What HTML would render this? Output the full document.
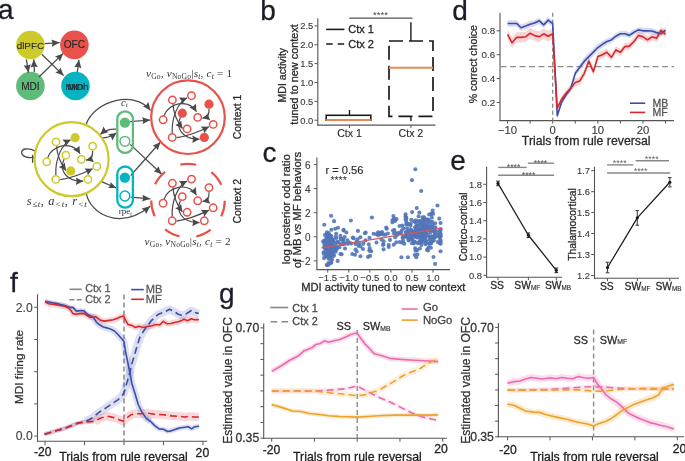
<!DOCTYPE html>
<html><head><meta charset="utf-8"><style>
html,body{margin:0;padding:0;background:#fff;width:685px;height:461px;overflow:hidden}
svg{display:block;will-change:transform}
</style></head><body>
<svg width="685" height="461" viewBox="0 0 685 461">
<rect width="685" height="461" fill="#fff"/>
<text x="-2" y="18.7" font-size="28" fill="#1c1c28" stroke="#1c1c28" stroke-width="0.28" text-anchor="start" font-family='"Liberation Sans", sans-serif' >a</text>
<text x="260.3" y="20" font-size="28" fill="#1c1c28" stroke="#1c1c28" stroke-width="0.28" text-anchor="start" font-family='"Liberation Sans", sans-serif' >b</text>
<text x="262.6" y="162.2" font-size="28" fill="#1c1c28" stroke="#1c1c28" stroke-width="0.28" text-anchor="start" font-family='"Liberation Sans", sans-serif' >c</text>
<text x="452.3" y="20.3" font-size="28" fill="#1c1c28" stroke="#1c1c28" stroke-width="0.28" text-anchor="start" font-family='"Liberation Sans", sans-serif' >d</text>
<text x="450.3" y="170.2" font-size="28" fill="#1c1c28" stroke="#1c1c28" stroke-width="0.28" text-anchor="start" font-family='"Liberation Sans", sans-serif' >e</text>
<text x="10" y="291.6" font-size="28" fill="#1c1c28" stroke="#1c1c28" stroke-width="0.28" text-anchor="start" font-family='"Liberation Sans", sans-serif' >f</text>
<text x="219" y="303.2" font-size="28" fill="#1c1c28" stroke="#1c1c28" stroke-width="0.28" text-anchor="start" font-family='"Liberation Sans", sans-serif' >g</text>
<circle cx="30.4" cy="45.0" r="14.3" fill="#cdca2c"/>
<circle cx="74.4" cy="44.8" r="14.3" fill="#e8524b"/>
<circle cx="30.4" cy="86.0" r="14.3" fill="#5ebc7a"/>
<circle cx="75.5" cy="86.0" r="14.3" fill="#06b3c1"/>
<text x="30.4" y="48.6" font-size="9.9" fill="#262626" stroke="#262626" stroke-width="0.1" text-anchor="middle" font-family='"Liberation Sans", sans-serif' >dlPFC</text>
<text x="74.4" y="48.4" font-size="10.1" fill="#262626" stroke="#262626" stroke-width="0.1" text-anchor="middle" font-family='"Liberation Sans", sans-serif' >OFC</text>
<text x="30.4" y="89.6" font-size="10.1" fill="#262626" stroke="#262626" stroke-width="0.1" text-anchor="middle" font-family='"Liberation Sans", sans-serif' >MDI</text>
<text x="78" y="89.6" font-size="9.9" fill="#1a2a30" stroke="#1a2a30" stroke-width="0.1" text-anchor="middle" font-family='"Liberation Sans", sans-serif' textLength="21" lengthAdjust="spacingAndGlyphs">MDh</text>
<text x="74.5" y="89.6" font-size="9.9" fill="#1a2a30" stroke="#1a2a30" stroke-width="0.1" text-anchor="middle" font-family='"Liberation Sans", sans-serif' textLength="18" lengthAdjust="spacingAndGlyphs">NMD</text>
<line x1="44.7" y1="43.6" x2="59.6" y2="42.6" stroke="#4a4a4a" stroke-width="1.3"/>
<path d="M59.6,42.6 L51.86,46.73 L52.58,43.07 L51.38,39.54Z" fill="#4a4a4a"/>
<line x1="26.4" y1="59.4" x2="28.4" y2="72.6" stroke="#4a4a4a" stroke-width="1.3"/>
<path d="M28.4,72.6 L23.64,65.23 L27.35,65.64 L30.76,64.15Z" fill="#4a4a4a"/>
<line x1="34.4" y1="72" x2="33.8" y2="59.4" stroke="#4a4a4a" stroke-width="1.3"/>
<path d="M33.8,59.4 L37.78,67.22 L34.13,66.43 L30.58,67.56Z" fill="#4a4a4a"/>
<line x1="39" y1="77" x2="63.2" y2="53.4" stroke="#4a4a4a" stroke-width="1.3"/>
<path d="M63.2,53.4 L59.99,61.56 L58.16,58.32 L54.96,56.41Z" fill="#4a4a4a"/>
<line x1="41.8" y1="54.2" x2="63.6" y2="75.6" stroke="#4a4a4a" stroke-width="1.3"/>
<path d="M63.6,75.6 L55.37,72.56 L58.58,70.67 L60.41,67.43Z" fill="#4a4a4a"/>
<line x1="77.3" y1="72" x2="78.9" y2="59.8" stroke="#4a4a4a" stroke-width="1.3"/>
<path d="M78.9,59.8 L81.43,68.2 L77.98,66.78 L74.29,67.26Z" fill="#4a4a4a"/>
<path d="M35,150.8 C28,147.5 21,148.5 21.7,153.2 C22.5,157.2 29,158.3 34.8,157.2" fill="none" stroke="#4a4a4a" stroke-width="1.3"/>
<line x1="32.6" y1="154.8" x2="32.6" y2="162.8" stroke="#4a4a4a" stroke-width="1.3"/>
<path d="M86,124.5 C95,100 135,90 150.5,110.5" fill="none" stroke="#4a4a4a" stroke-width="1.2"/>
<path d="M150.5,110.5 L142.96,106.17 L146.25,104.88 L148.39,102.07Z" fill="#4a4a4a"/>
<path d="M86.4,193.8 C90,212 118,232 150.2,206.3" fill="none" stroke="#4a4a4a" stroke-width="1.2"/>
<path d="M150.2,206.3 L146.19,214.1 L144.7,210.69 L141.7,208.48Z" fill="#4a4a4a"/>
<path d="M116.5,129.2 C111,129 106,129.5 100.4,134.4" fill="none" stroke="#4a4a4a" stroke-width="1.3"/>
<path d="M100.4,134.4 L103.54,126.6 L105.37,130.05 L108.55,132.32Z" fill="#4a4a4a"/>
<path d="M101.5,138 C106,138 110,137.5 116.4,133" fill="none" stroke="#4a4a4a" stroke-width="1.3"/>
<path d="M116.4,133 L112.45,140.42 L111,136.8 L108.08,134.21Z" fill="#4a4a4a"/>
<line x1="130" y1="121.6" x2="150.3" y2="120" stroke="#4a4a4a" stroke-width="1.2"/>
<path d="M150.3,120 L142.59,124.02 L143.28,120.55 L142.06,117.24Z" fill="#4a4a4a"/>
<line x1="130.2" y1="144.4" x2="161.8" y2="174.2" stroke="#4a4a4a" stroke-width="1.2"/>
<path d="M161.8,174.2 L153.65,171.18 L156.68,169.37 L158.31,166.24Z" fill="#4a4a4a"/>
<line x1="130.7" y1="175.5" x2="160.5" y2="142" stroke="#4a4a4a" stroke-width="1.2"/>
<path d="M160.5,142 L157.72,150.24 L155.82,147.26 L152.64,145.72Z" fill="#4a4a4a"/>
<line x1="101" y1="181.4" x2="116.3" y2="188" stroke="#4a4a4a" stroke-width="1.2"/>
<path d="M116.3,188 L108.15,187.97 L110.24,185.39 L110.68,182.09Z" fill="#4a4a4a"/>
<line x1="130.8" y1="197.2" x2="150.3" y2="198.8" stroke="#4a4a4a" stroke-width="1.2"/>
<path d="M150.3,198.8 L142.05,201.53 L143.28,198.22 L142.6,194.76Z" fill="#4a4a4a"/>
<circle cx="71.6" cy="159.2" r="37.0" fill="none" stroke="#cdca2c" stroke-width="2.2"/>
<path d="M47.6,157.7 C51.6,145.2 71.6,140.2 80.1,153.7" fill="none" stroke="#4a4a4a" stroke-width="1.2"/>
<path d="M80.1,153.7 L73.13,149.58 L76.72,148.34 L79.39,145.64Z" fill="#4a4a4a"/>
<path d="M55.8,175.2 C55.1,159.2 61.6,144.2 70.6,139.7" fill="none" stroke="#4a4a4a" stroke-width="1.2"/>
<path d="M70.6,139.7 L65.81,146.23 L64.93,142.53 L62.51,139.61Z" fill="#4a4a4a"/>
<path d="M56.6,146.2 C57.1,157.2 62.1,165.2 66,170.6" fill="none" stroke="#4a4a4a" stroke-width="1.2"/>
<path d="M66,170.6 L58.78,166.93 L62.29,165.46 L64.78,162.6Z" fill="#4a4a4a"/>
<path d="M92.6,150.7 C93.1,156.2 90.6,159.2 86.1,160.2" fill="none" stroke="#4a4a4a" stroke-width="1.2"/>
<path d="M86.1,160.2 L92.33,155.03 L92.29,158.83 L93.93,162.25Z" fill="#4a4a4a"/>
<path d="M60.1,179.7 C69.6,178.2 81.6,174.2 92.6,168.7" fill="none" stroke="#4a4a4a" stroke-width="1.2"/>
<path d="M92.6,168.7 L87.81,175.23 L86.93,171.53 L84.51,168.61Z" fill="#4a4a4a"/>
<path d="M64.1,159.2 C59.6,168.2 63.6,181.2 83.1,181.2" fill="none" stroke="#4a4a4a" stroke-width="1.2"/>
<path d="M83.1,181.2 L75.9,184.9 L76.76,181.2 L75.9,177.5Z" fill="#4a4a4a"/>
<circle cx="56" cy="141.9" r="3.7" fill="#fff" stroke="#cdca2c" stroke-width="1.5"/>
<circle cx="75.1" cy="137.7" r="4.6" fill="#cdca2c"/>
<circle cx="92.6" cy="146.2" r="3.7" fill="#fff" stroke="#cdca2c" stroke-width="1.5"/>
<circle cx="65.9" cy="155.2" r="3.7" fill="#fff" stroke="#cdca2c" stroke-width="1.5"/>
<circle cx="46.7" cy="161.8" r="3.7" fill="#fff" stroke="#cdca2c" stroke-width="1.5"/>
<circle cx="81.3" cy="159.4" r="3.7" fill="#fff" stroke="#cdca2c" stroke-width="1.5"/>
<circle cx="96.8" cy="166.4" r="3.7" fill="#fff" stroke="#cdca2c" stroke-width="1.5"/>
<circle cx="70.7" cy="170.9" r="4.6" fill="#cdca2c"/>
<circle cx="55.8" cy="179.4" r="3.7" fill="#fff" stroke="#cdca2c" stroke-width="1.5"/>
<circle cx="87.9" cy="179.4" r="3.7" fill="#fff" stroke="#cdca2c" stroke-width="1.5"/>
<circle cx="188.0" cy="117.2" r="36.8" fill="none" stroke="#e8524b" stroke-width="2.2"/>
<path d="M164,115.7 C168,103.2 188,98.2 196.5,111.7" fill="none" stroke="#4a4a4a" stroke-width="1.2"/>
<path d="M196.5,111.7 L189.53,107.58 L193.12,106.34 L195.79,103.64Z" fill="#4a4a4a"/>
<path d="M172.2,133.2 C171.5,117.2 178,102.2 187,97.7" fill="none" stroke="#4a4a4a" stroke-width="1.2"/>
<path d="M187,97.7 L182.21,104.23 L181.33,100.53 L178.91,97.61Z" fill="#4a4a4a"/>
<path d="M173,104.2 C173.5,115.2 178.5,123.2 182.4,128.6" fill="none" stroke="#4a4a4a" stroke-width="1.2"/>
<path d="M182.4,128.6 L175.18,124.93 L178.69,123.46 L181.18,120.6Z" fill="#4a4a4a"/>
<path d="M209,108.7 C209.5,114.2 207,117.2 202.5,118.2" fill="none" stroke="#4a4a4a" stroke-width="1.2"/>
<path d="M202.5,118.2 L208.73,113.03 L208.69,116.83 L210.33,120.25Z" fill="#4a4a4a"/>
<path d="M176.5,137.7 C186,136.2 198,132.2 209,126.7" fill="none" stroke="#4a4a4a" stroke-width="1.2"/>
<path d="M209,126.7 L204.21,133.23 L203.33,129.53 L200.91,126.61Z" fill="#4a4a4a"/>
<path d="M180.5,117.2 C176,126.2 180,139.2 199.5,139.2" fill="none" stroke="#4a4a4a" stroke-width="1.2"/>
<path d="M199.5,139.2 L192.3,142.9 L193.16,139.2 L192.3,135.5Z" fill="#4a4a4a"/>
<circle cx="172.4" cy="99.9" r="3.7" fill="#fff" stroke="#e8524b" stroke-width="1.5"/>
<circle cx="191.5" cy="95.7" r="3.7" fill="#fff" stroke="#e8524b" stroke-width="1.5"/>
<circle cx="209" cy="104.2" r="4.6" fill="#e8524b"/>
<circle cx="182.3" cy="113.2" r="4.6" fill="#e8524b"/>
<circle cx="163.1" cy="119.8" r="3.7" fill="#fff" stroke="#e8524b" stroke-width="1.5"/>
<circle cx="197.7" cy="117.4" r="3.7" fill="#fff" stroke="#e8524b" stroke-width="1.5"/>
<circle cx="213.2" cy="124.4" r="3.7" fill="#fff" stroke="#e8524b" stroke-width="1.5"/>
<circle cx="187.1" cy="128.9" r="3.7" fill="#fff" stroke="#e8524b" stroke-width="1.5"/>
<circle cx="172.2" cy="137.4" r="3.7" fill="#fff" stroke="#e8524b" stroke-width="1.5"/>
<circle cx="204.3" cy="137.4" r="4.6" fill="#e8524b"/>
<circle cx="188.0" cy="200.6" r="36.8" fill="none" stroke="#e8524b" stroke-width="2.2" stroke-dasharray="16.06 16.97" stroke-dashoffset="-0.26"/>
<path d="M164,199.1 C168,186.6 188,181.6 196.5,195.1" fill="none" stroke="#4a4a4a" stroke-width="1.2"/>
<path d="M196.5,195.1 L189.53,190.98 L193.12,189.74 L195.79,187.04Z" fill="#4a4a4a"/>
<path d="M172.2,216.6 C171.5,200.6 178,185.6 187,181.1" fill="none" stroke="#4a4a4a" stroke-width="1.2"/>
<path d="M187,181.1 L182.21,187.63 L181.33,183.93 L178.91,181.01Z" fill="#4a4a4a"/>
<path d="M173,187.6 C173.5,198.6 178.5,206.6 182.4,212" fill="none" stroke="#4a4a4a" stroke-width="1.2"/>
<path d="M182.4,212 L175.18,208.33 L178.69,206.86 L181.18,204Z" fill="#4a4a4a"/>
<path d="M209,192.1 C209.5,197.6 207,200.6 202.5,201.6" fill="none" stroke="#4a4a4a" stroke-width="1.2"/>
<path d="M202.5,201.6 L208.73,196.43 L208.69,200.23 L210.33,203.65Z" fill="#4a4a4a"/>
<path d="M176.5,221.1 C186,219.6 198,215.6 209,210.1" fill="none" stroke="#4a4a4a" stroke-width="1.2"/>
<path d="M209,210.1 L204.21,216.63 L203.33,212.93 L200.91,210.01Z" fill="#4a4a4a"/>
<path d="M180.5,200.6 C176,209.6 180,222.6 199.5,222.6" fill="none" stroke="#4a4a4a" stroke-width="1.2"/>
<path d="M199.5,222.6 L192.3,226.3 L193.16,222.6 L192.3,218.9Z" fill="#4a4a4a"/>
<circle cx="172.4" cy="183.3" r="3.7" fill="#fff" stroke="#e8524b" stroke-width="1.5"/>
<circle cx="191.5" cy="179.1" r="3.7" fill="#fff" stroke="#e8524b" stroke-width="1.5"/>
<circle cx="209" cy="187.6" r="3.7" fill="#fff" stroke="#e8524b" stroke-width="1.5"/>
<circle cx="182.3" cy="196.6" r="3.7" fill="#fff" stroke="#e8524b" stroke-width="1.5"/>
<circle cx="163.1" cy="203.2" r="3.7" fill="#fff" stroke="#e8524b" stroke-width="1.5"/>
<circle cx="197.7" cy="200.8" r="3.7" fill="#fff" stroke="#e8524b" stroke-width="1.5"/>
<circle cx="213.2" cy="207.8" r="3.7" fill="#fff" stroke="#e8524b" stroke-width="1.5"/>
<circle cx="187.1" cy="212.3" r="3.7" fill="#fff" stroke="#e8524b" stroke-width="1.5"/>
<circle cx="172.2" cy="220.8" r="3.7" fill="#fff" stroke="#e8524b" stroke-width="1.5"/>
<circle cx="204.3" cy="220.8" r="3.7" fill="#fff" stroke="#e8524b" stroke-width="1.5"/>
<rect x="117.3" y="111.3" width="15.6" height="41.6" rx="7.8" fill="none" stroke="#5ebc7a" stroke-width="2.3"/>
<circle cx="124.9" cy="122.6" r="5.2" fill="#5ebc7a"/>
<circle cx="124.9" cy="141.3" r="4.9" fill="#fff" stroke="#5ebc7a" stroke-width="1.5"/>
<rect x="117.3" y="166.5" width="15.6" height="41.2" rx="7.8" fill="none" stroke="#06b3c1" stroke-width="2.3"/>
<circle cx="124.9" cy="177.6" r="5.2" fill="#06b3c1"/>
<circle cx="124.9" cy="196.0" r="4.9" fill="#fff" stroke="#06b3c1" stroke-width="1.5"/>
<text x="146" y="77.4" fill="#333" font-family='"Liberation Serif", serif' textLength="86.0" lengthAdjust="spacing"><tspan font-size="11.2" dy="0" font-style="italic">v</tspan><tspan font-size="7.6" dy="1.8" >Go</tspan><tspan font-size="11.2" dy="-1.8" >, </tspan><tspan font-size="11.2" dy="0" font-style="italic">v</tspan><tspan font-size="7.6" dy="1.8" >NoGo</tspan><tspan font-size="11.2" dy="-1.8" >|</tspan><tspan font-size="11.2" dy="0" font-style="italic">s</tspan><tspan font-size="7.6" dy="1.8" font-style="italic">t</tspan><tspan font-size="11.2" dy="-1.8" >, </tspan><tspan font-size="11.2" dy="0" font-style="italic">c</tspan><tspan font-size="7.6" dy="1.8" font-style="italic">t</tspan><tspan font-size="11.2" dy="-1.8" > = 1</tspan></text>
<text x="144.6" y="245.4" fill="#333" font-family='"Liberation Serif", serif' textLength="86.0" lengthAdjust="spacing"><tspan font-size="11.2" dy="0" font-style="italic">v</tspan><tspan font-size="7.6" dy="1.8" >Go</tspan><tspan font-size="11.2" dy="-1.8" >, </tspan><tspan font-size="11.2" dy="0" font-style="italic">v</tspan><tspan font-size="7.6" dy="1.8" >NoGo</tspan><tspan font-size="11.2" dy="-1.8" >|</tspan><tspan font-size="11.2" dy="0" font-style="italic">s</tspan><tspan font-size="7.6" dy="1.8" font-style="italic">t</tspan><tspan font-size="11.2" dy="-1.8" >, </tspan><tspan font-size="11.2" dy="0" font-style="italic">c</tspan><tspan font-size="7.6" dy="1.8" font-style="italic">t</tspan><tspan font-size="11.2" dy="-1.8" > = 2</tspan></text>
<text x="26.8" y="204.6" fill="#333" font-family='"Liberation Serif", serif' textLength="60" lengthAdjust="spacing"><tspan font-size="12.5" font-style="italic">s</tspan><tspan font-size="9" dy="2.6" font-style="italic">≤t</tspan><tspan font-size="12.5" dy="-2.6">, </tspan><tspan font-size="12.5" font-style="italic">a</tspan><tspan font-size="9" dy="2.6" font-style="italic">&lt;t</tspan><tspan font-size="12.5" dy="-2.6">, </tspan><tspan font-size="12.5" font-style="italic">r</tspan><tspan font-size="9" dy="2.6" font-style="italic">&lt;t</tspan></text>
<text x="121" y="105.6" fill="#333" font-family='"Liberation Serif", serif'><tspan font-size="10.5" dy="0" font-style="italic">c</tspan><tspan font-size="7" dy="1.6" font-style="italic">t</tspan></text>
<text x="118.8" y="214.4" fill="#333" font-family='"Liberation Serif", serif'><tspan font-size="9.0" dy="0" >rpe</tspan><tspan font-size="6.0" dy="1.5" >t</tspan></text>
<text transform="translate(241.3,117) rotate(-90)" font-size="10.4" fill="#2a2a2a" stroke="#2a2a2a" stroke-width="0.28" text-anchor="middle" font-family='"Liberation Sans", sans-serif'>Context 1</text>
<text transform="translate(241.3,201.3) rotate(-90)" font-size="10.4" fill="#2a2a2a" stroke="#2a2a2a" stroke-width="0.28" text-anchor="middle" font-family='"Liberation Sans", sans-serif'>Context 2</text>
<line x1="317.8" y1="18.2" x2="317.8" y2="125.6" stroke="#555555" stroke-width="1.1" />
<line x1="317.3" y1="125.1" x2="435.5" y2="125.1" stroke="#555555" stroke-width="1.1" />
<line x1="314.5" y1="120.2" x2="317.8" y2="120.2" stroke="#555555" stroke-width="1" />
<text x="313.3" y="123.58" font-size="9.4" fill="#3a3a3a" stroke="#3a3a3a" stroke-width="0.12" text-anchor="end" font-family='"Liberation Sans", sans-serif' >0.0</text>
<line x1="314.5" y1="101.34" x2="317.8" y2="101.34" stroke="#555555" stroke-width="1" />
<text x="313.3" y="104.72" font-size="9.4" fill="#3a3a3a" stroke="#3a3a3a" stroke-width="0.12" text-anchor="end" font-family='"Liberation Sans", sans-serif' >0.5</text>
<line x1="314.5" y1="82.48" x2="317.8" y2="82.48" stroke="#555555" stroke-width="1" />
<text x="313.3" y="85.86" font-size="9.4" fill="#3a3a3a" stroke="#3a3a3a" stroke-width="0.12" text-anchor="end" font-family='"Liberation Sans", sans-serif' >1.0</text>
<line x1="314.5" y1="63.62" x2="317.8" y2="63.62" stroke="#555555" stroke-width="1" />
<text x="313.3" y="67" font-size="9.4" fill="#3a3a3a" stroke="#3a3a3a" stroke-width="0.12" text-anchor="end" font-family='"Liberation Sans", sans-serif' >1.5</text>
<line x1="314.5" y1="44.76" x2="317.8" y2="44.76" stroke="#555555" stroke-width="1" />
<text x="313.3" y="48.14" font-size="9.4" fill="#3a3a3a" stroke="#3a3a3a" stroke-width="0.12" text-anchor="end" font-family='"Liberation Sans", sans-serif' >2.0</text>
<line x1="314.5" y1="25.9" x2="317.8" y2="25.9" stroke="#555555" stroke-width="1" />
<text x="313.3" y="29.28" font-size="9.4" fill="#3a3a3a" stroke="#3a3a3a" stroke-width="0.12" text-anchor="end" font-family='"Liberation Sans", sans-serif' >2.5</text>
<line x1="349.5" y1="125.1" x2="349.5" y2="128.1" stroke="#555555" stroke-width="1" />
<text x="349.5" y="137" font-size="10.6" fill="#2a2a2a" stroke="#2a2a2a" stroke-width="0.12" text-anchor="middle" font-family='"Liberation Sans", sans-serif' >Ctx 1</text>
<line x1="410.9" y1="125.1" x2="410.9" y2="128.1" stroke="#555555" stroke-width="1" />
<text x="410.9" y="137" font-size="10.6" fill="#2a2a2a" stroke="#2a2a2a" stroke-width="0.12" text-anchor="middle" font-family='"Liberation Sans", sans-serif' >Ctx 2</text>
<text transform="translate(286.2,75.2) rotate(-90)" font-size="10.6" fill="#2a2a2a" stroke="#2a2a2a" stroke-width="0.28" text-anchor="middle" font-family='"Liberation Sans", sans-serif'>MDI activity</text>
<text transform="translate(298.4,74.4) rotate(-90)" font-size="10.9" fill="#2a2a2a" stroke="#2a2a2a" stroke-width="0.28" text-anchor="middle" font-family='"Liberation Sans", sans-serif'>tuned to new context</text>
<rect x="326.2" y="115.3" width="44.6" height="4.9" fill="none" stroke="#1a1a1a" stroke-width="1.6"/>
<line x1="349.5" y1="115.3" x2="349.5" y2="110.02" stroke="#1a1a1a" stroke-width="1.4" />
<line x1="326.2" y1="120.01" x2="370.8" y2="120.01" stroke="#e88a55" stroke-width="1.8" />
<rect x="389.0" y="40.99" width="44.0" height="75.44" fill="none" stroke="#1a1a1a" stroke-width="1.7" stroke-dasharray="14 6" stroke-dashoffset="0"/>
<line x1="410.9" y1="40.99" x2="410.9" y2="22.13" stroke="#1a1a1a" stroke-width="1.4" />
<line x1="410.9" y1="116.43" x2="410.9" y2="120.95" stroke="#1a1a1a" stroke-width="1.4" />
<line x1="389" y1="67.77" x2="433" y2="67.77" stroke="#e88a55" stroke-width="1.8" />
<line x1="349.3" y1="18.1" x2="412.5" y2="18.1" stroke="#555" stroke-width="1.3" />
<text x="380.5" y="18" font-size="9.6" fill="#444" stroke="#444" stroke-width="0" text-anchor="middle" font-family='"Liberation Sans", sans-serif' >****</text>
<line x1="326.2" y1="29.4" x2="344.4" y2="29.4" stroke="#1a1a1a" stroke-width="1.6" />
<line x1="326.2" y1="44" x2="344.4" y2="44" stroke="#1a1a1a" stroke-width="1.7" stroke-dasharray="6.5 5"/>
<text x="348.3" y="33.4" font-size="11" fill="#1e1e1e" stroke="#1e1e1e" stroke-width="0.28" text-anchor="start" font-family='"Liberation Sans", sans-serif' >Ctx 1</text>
<text x="348.3" y="48" font-size="11" fill="#1e1e1e" stroke="#1e1e1e" stroke-width="0.28" text-anchor="start" font-family='"Liberation Sans", sans-serif' >Ctx 2</text>
<line x1="316.9" y1="157.6" x2="316.9" y2="270.1" stroke="#555555" stroke-width="1.1" />
<line x1="316.4" y1="269.6" x2="450" y2="269.6" stroke="#555555" stroke-width="1.1" />
<line x1="313.9" y1="260.9" x2="316.9" y2="260.9" stroke="#555555" stroke-width="1" />
<text x="310.5" y="265" font-size="10.0" fill="#3a3a3a" stroke="#3a3a3a" stroke-width="0.12" text-anchor="end" font-family='"Liberation Sans", sans-serif' >−2</text>
<line x1="313.9" y1="236.8" x2="316.9" y2="236.8" stroke="#555555" stroke-width="1" />
<text x="310.5" y="240.9" font-size="10.0" fill="#3a3a3a" stroke="#3a3a3a" stroke-width="0.12" text-anchor="end" font-family='"Liberation Sans", sans-serif' >0</text>
<line x1="313.9" y1="212.7" x2="316.9" y2="212.7" stroke="#555555" stroke-width="1" />
<text x="310.5" y="216.8" font-size="10.0" fill="#3a3a3a" stroke="#3a3a3a" stroke-width="0.12" text-anchor="end" font-family='"Liberation Sans", sans-serif' >2</text>
<line x1="313.9" y1="188.6" x2="316.9" y2="188.6" stroke="#555555" stroke-width="1" />
<text x="310.5" y="192.7" font-size="10.0" fill="#3a3a3a" stroke="#3a3a3a" stroke-width="0.12" text-anchor="end" font-family='"Liberation Sans", sans-serif' >4</text>
<line x1="313.9" y1="164.5" x2="316.9" y2="164.5" stroke="#555555" stroke-width="1" />
<text x="310.5" y="168.6" font-size="10.0" fill="#3a3a3a" stroke="#3a3a3a" stroke-width="0.12" text-anchor="end" font-family='"Liberation Sans", sans-serif' >6</text>
<line x1="327.75" y1="269.6" x2="327.75" y2="272.6" stroke="#555555" stroke-width="1" />
<text x="327.75" y="281.2" font-size="9.6" fill="#3a3a3a" stroke="#3a3a3a" stroke-width="0.12" text-anchor="middle" font-family='"Liberation Sans", sans-serif' >−1.5</text>
<line x1="348.8" y1="269.6" x2="348.8" y2="272.6" stroke="#555555" stroke-width="1" />
<text x="348.8" y="281.2" font-size="9.6" fill="#3a3a3a" stroke="#3a3a3a" stroke-width="0.12" text-anchor="middle" font-family='"Liberation Sans", sans-serif' >−1.0</text>
<line x1="369.85" y1="269.6" x2="369.85" y2="272.6" stroke="#555555" stroke-width="1" />
<text x="369.85" y="281.2" font-size="9.6" fill="#3a3a3a" stroke="#3a3a3a" stroke-width="0.12" text-anchor="middle" font-family='"Liberation Sans", sans-serif' >−0.5</text>
<line x1="390.9" y1="269.6" x2="390.9" y2="272.6" stroke="#555555" stroke-width="1" />
<text x="390.9" y="281.2" font-size="9.6" fill="#3a3a3a" stroke="#3a3a3a" stroke-width="0.12" text-anchor="middle" font-family='"Liberation Sans", sans-serif' >0.0</text>
<line x1="411.95" y1="269.6" x2="411.95" y2="272.6" stroke="#555555" stroke-width="1" />
<text x="411.95" y="281.2" font-size="9.6" fill="#3a3a3a" stroke="#3a3a3a" stroke-width="0.12" text-anchor="middle" font-family='"Liberation Sans", sans-serif' >0.5</text>
<line x1="433" y1="269.6" x2="433" y2="272.6" stroke="#555555" stroke-width="1" />
<text x="433" y="281.2" font-size="9.6" fill="#3a3a3a" stroke="#3a3a3a" stroke-width="0.12" text-anchor="middle" font-family='"Liberation Sans", sans-serif' >1.0</text>
<text x="301.2" y="290.8" font-size="11.2" fill="#2a2a2a" stroke="#2a2a2a" stroke-width="0.28" text-anchor="start" font-family='"Liberation Sans", sans-serif' >MDI activity tuned to new context</text>
<text transform="translate(289.6,209.2) rotate(-90)" font-size="11.4" fill="#2a2a2a" stroke="#2a2a2a" stroke-width="0.28" text-anchor="middle" font-family='"Liberation Sans", sans-serif'>log posterior odd ratio</text>
<text transform="translate(301,210) rotate(-90)" font-size="11.4" fill="#2a2a2a" stroke="#2a2a2a" stroke-width="0.28" text-anchor="middle" font-family='"Liberation Sans", sans-serif'>of MB <tspan font-style="italic">vs</tspan> MF behaviors</text>
<text x="325.4" y="173.6" font-size="11.1" fill="#2a2a2a" stroke="#2a2a2a" stroke-width="0.15" text-anchor="start" font-family='"Liberation Sans", sans-serif' >r = 0.56</text>
<text x="330.4" y="184" font-size="10.5" fill="#333" stroke="#333" stroke-width="0" text-anchor="start" font-family='"Liberation Sans", sans-serif' >****</text>
<circle cx="325.41" cy="244.22" r="2.05" fill="#5276b8" fill-opacity="0.9"/>
<circle cx="331.95" cy="250.88" r="2.05" fill="#5276b8" fill-opacity="0.9"/>
<circle cx="325.1" cy="247.53" r="2.05" fill="#5276b8" fill-opacity="0.9"/>
<circle cx="330.42" cy="238.84" r="2.05" fill="#5276b8" fill-opacity="0.9"/>
<circle cx="325.43" cy="256.7" r="2.05" fill="#5276b8" fill-opacity="0.9"/>
<circle cx="331.09" cy="243.5" r="2.05" fill="#5276b8" fill-opacity="0.9"/>
<circle cx="333.53" cy="239.7" r="2.05" fill="#5276b8" fill-opacity="0.9"/>
<circle cx="328.71" cy="249.09" r="2.05" fill="#5276b8" fill-opacity="0.9"/>
<circle cx="336.59" cy="249.2" r="2.05" fill="#5276b8" fill-opacity="0.9"/>
<circle cx="326.7" cy="255.55" r="2.05" fill="#5276b8" fill-opacity="0.9"/>
<circle cx="329.29" cy="245.96" r="2.05" fill="#5276b8" fill-opacity="0.9"/>
<circle cx="328" cy="247.51" r="2.05" fill="#5276b8" fill-opacity="0.9"/>
<circle cx="329.82" cy="241.87" r="2.05" fill="#5276b8" fill-opacity="0.9"/>
<circle cx="332.25" cy="245.47" r="2.05" fill="#5276b8" fill-opacity="0.9"/>
<circle cx="323.74" cy="241.8" r="2.05" fill="#5276b8" fill-opacity="0.9"/>
<circle cx="324.83" cy="248.32" r="2.05" fill="#5276b8" fill-opacity="0.9"/>
<circle cx="324.67" cy="247.03" r="2.05" fill="#5276b8" fill-opacity="0.9"/>
<circle cx="326.72" cy="245.44" r="2.05" fill="#5276b8" fill-opacity="0.9"/>
<circle cx="337.01" cy="247.41" r="2.05" fill="#5276b8" fill-opacity="0.9"/>
<circle cx="331.5" cy="256.93" r="2.05" fill="#5276b8" fill-opacity="0.9"/>
<circle cx="328.16" cy="242.09" r="2.05" fill="#5276b8" fill-opacity="0.9"/>
<circle cx="328.74" cy="244.28" r="2.05" fill="#5276b8" fill-opacity="0.9"/>
<circle cx="329.32" cy="254.56" r="2.05" fill="#5276b8" fill-opacity="0.9"/>
<circle cx="330.67" cy="253.11" r="2.05" fill="#5276b8" fill-opacity="0.9"/>
<circle cx="334.53" cy="250.82" r="2.05" fill="#5276b8" fill-opacity="0.9"/>
<circle cx="331.03" cy="247.02" r="2.05" fill="#5276b8" fill-opacity="0.9"/>
<circle cx="331.82" cy="251.54" r="2.05" fill="#5276b8" fill-opacity="0.9"/>
<circle cx="331.96" cy="247.97" r="2.05" fill="#5276b8" fill-opacity="0.9"/>
<circle cx="332.74" cy="242.38" r="2.05" fill="#5276b8" fill-opacity="0.9"/>
<circle cx="329.43" cy="252.87" r="2.05" fill="#5276b8" fill-opacity="0.9"/>
<circle cx="331.28" cy="243.54" r="2.05" fill="#5276b8" fill-opacity="0.9"/>
<circle cx="333.85" cy="249.86" r="2.05" fill="#5276b8" fill-opacity="0.9"/>
<circle cx="330.65" cy="243.25" r="2.05" fill="#5276b8" fill-opacity="0.9"/>
<circle cx="329.85" cy="245.49" r="2.05" fill="#5276b8" fill-opacity="0.9"/>
<circle cx="329.55" cy="251.51" r="2.05" fill="#5276b8" fill-opacity="0.9"/>
<circle cx="326.02" cy="250" r="2.05" fill="#5276b8" fill-opacity="0.9"/>
<circle cx="330.75" cy="235.75" r="2.05" fill="#5276b8" fill-opacity="0.9"/>
<circle cx="331.89" cy="239.17" r="2.05" fill="#5276b8" fill-opacity="0.9"/>
<circle cx="331.3" cy="241.82" r="2.05" fill="#5276b8" fill-opacity="0.9"/>
<circle cx="329.55" cy="241.28" r="2.05" fill="#5276b8" fill-opacity="0.9"/>
<circle cx="334.24" cy="249.49" r="2.05" fill="#5276b8" fill-opacity="0.9"/>
<circle cx="326.97" cy="232.4" r="2.05" fill="#5276b8" fill-opacity="0.9"/>
<circle cx="329.73" cy="239.79" r="2.05" fill="#5276b8" fill-opacity="0.9"/>
<circle cx="331.59" cy="255.53" r="2.05" fill="#5276b8" fill-opacity="0.9"/>
<circle cx="336.18" cy="233.78" r="2.05" fill="#5276b8" fill-opacity="0.9"/>
<circle cx="329.53" cy="241.42" r="2.05" fill="#5276b8" fill-opacity="0.9"/>
<circle cx="329.39" cy="253.65" r="2.05" fill="#5276b8" fill-opacity="0.9"/>
<circle cx="328.68" cy="244.25" r="2.05" fill="#5276b8" fill-opacity="0.9"/>
<circle cx="332.3" cy="241.74" r="2.05" fill="#5276b8" fill-opacity="0.9"/>
<circle cx="329.19" cy="236.92" r="2.05" fill="#5276b8" fill-opacity="0.9"/>
<circle cx="326.77" cy="241.12" r="2.05" fill="#5276b8" fill-opacity="0.9"/>
<circle cx="332.29" cy="249.22" r="2.05" fill="#5276b8" fill-opacity="0.9"/>
<circle cx="323.74" cy="253.81" r="2.05" fill="#5276b8" fill-opacity="0.9"/>
<circle cx="329.71" cy="243.1" r="2.05" fill="#5276b8" fill-opacity="0.9"/>
<circle cx="333.58" cy="254.54" r="2.05" fill="#5276b8" fill-opacity="0.9"/>
<circle cx="329.02" cy="242.2" r="2.05" fill="#5276b8" fill-opacity="0.9"/>
<circle cx="328.55" cy="264.75" r="2.05" fill="#5276b8" fill-opacity="0.9"/>
<circle cx="331.39" cy="229.77" r="2.05" fill="#5276b8" fill-opacity="0.9"/>
<circle cx="331.97" cy="253.9" r="2.05" fill="#5276b8" fill-opacity="0.9"/>
<circle cx="327.8" cy="245.39" r="2.05" fill="#5276b8" fill-opacity="0.9"/>
<circle cx="336.35" cy="242.43" r="2.05" fill="#5276b8" fill-opacity="0.9"/>
<circle cx="329.35" cy="235.41" r="2.05" fill="#5276b8" fill-opacity="0.9"/>
<circle cx="328.77" cy="233.14" r="2.05" fill="#5276b8" fill-opacity="0.9"/>
<circle cx="326.99" cy="250.59" r="2.05" fill="#5276b8" fill-opacity="0.9"/>
<circle cx="331.14" cy="236.4" r="2.05" fill="#5276b8" fill-opacity="0.9"/>
<circle cx="330.94" cy="244.79" r="2.05" fill="#5276b8" fill-opacity="0.9"/>
<circle cx="323.64" cy="252.37" r="2.05" fill="#5276b8" fill-opacity="0.9"/>
<circle cx="327.21" cy="251.03" r="2.05" fill="#5276b8" fill-opacity="0.9"/>
<circle cx="330.74" cy="249.55" r="2.05" fill="#5276b8" fill-opacity="0.9"/>
<circle cx="331.33" cy="246.43" r="2.05" fill="#5276b8" fill-opacity="0.9"/>
<circle cx="328.03" cy="246.16" r="2.05" fill="#5276b8" fill-opacity="0.9"/>
<circle cx="330.28" cy="240.63" r="2.05" fill="#5276b8" fill-opacity="0.9"/>
<circle cx="327.61" cy="248.78" r="2.05" fill="#5276b8" fill-opacity="0.9"/>
<circle cx="324.99" cy="235.06" r="2.05" fill="#5276b8" fill-opacity="0.9"/>
<circle cx="333.29" cy="248.38" r="2.05" fill="#5276b8" fill-opacity="0.9"/>
<circle cx="327.6" cy="256.28" r="2.05" fill="#5276b8" fill-opacity="0.9"/>
<circle cx="329.51" cy="245.5" r="2.05" fill="#5276b8" fill-opacity="0.9"/>
<circle cx="335.44" cy="245.2" r="2.05" fill="#5276b8" fill-opacity="0.9"/>
<circle cx="326.72" cy="265.12" r="2.05" fill="#5276b8" fill-opacity="0.9"/>
<circle cx="333.17" cy="245.63" r="2.05" fill="#5276b8" fill-opacity="0.9"/>
<circle cx="324.27" cy="245.69" r="2.05" fill="#5276b8" fill-opacity="0.9"/>
<circle cx="324.27" cy="224.75" r="2.05" fill="#5276b8" fill-opacity="0.9"/>
<circle cx="332.31" cy="242.77" r="2.05" fill="#5276b8" fill-opacity="0.9"/>
<circle cx="328.5" cy="263.03" r="2.05" fill="#5276b8" fill-opacity="0.9"/>
<circle cx="328.64" cy="258.66" r="2.05" fill="#5276b8" fill-opacity="0.9"/>
<circle cx="330.77" cy="263.02" r="2.05" fill="#5276b8" fill-opacity="0.9"/>
<circle cx="326.34" cy="237.93" r="2.05" fill="#5276b8" fill-opacity="0.9"/>
<circle cx="333.86" cy="255.87" r="2.05" fill="#5276b8" fill-opacity="0.9"/>
<circle cx="324.49" cy="240.47" r="2.05" fill="#5276b8" fill-opacity="0.9"/>
<circle cx="331.53" cy="254.41" r="2.05" fill="#5276b8" fill-opacity="0.9"/>
<circle cx="326.97" cy="252.23" r="2.05" fill="#5276b8" fill-opacity="0.9"/>
<circle cx="325.51" cy="252.12" r="2.05" fill="#5276b8" fill-opacity="0.9"/>
<circle cx="332.7" cy="241.89" r="2.05" fill="#5276b8" fill-opacity="0.9"/>
<circle cx="335.07" cy="247.69" r="2.05" fill="#5276b8" fill-opacity="0.9"/>
<circle cx="328.61" cy="254.38" r="2.05" fill="#5276b8" fill-opacity="0.9"/>
<circle cx="328.65" cy="256.85" r="2.05" fill="#5276b8" fill-opacity="0.9"/>
<circle cx="323.78" cy="241.84" r="2.05" fill="#5276b8" fill-opacity="0.9"/>
<circle cx="333.26" cy="240.79" r="2.05" fill="#5276b8" fill-opacity="0.9"/>
<circle cx="332.94" cy="245.16" r="2.05" fill="#5276b8" fill-opacity="0.9"/>
<circle cx="326.9" cy="246.4" r="2.05" fill="#5276b8" fill-opacity="0.9"/>
<circle cx="327.91" cy="255.35" r="2.05" fill="#5276b8" fill-opacity="0.9"/>
<circle cx="324.03" cy="258.12" r="2.05" fill="#5276b8" fill-opacity="0.9"/>
<circle cx="329" cy="245.92" r="2.05" fill="#5276b8" fill-opacity="0.9"/>
<circle cx="327.61" cy="236.37" r="2.05" fill="#5276b8" fill-opacity="0.9"/>
<circle cx="329.54" cy="242.69" r="2.05" fill="#5276b8" fill-opacity="0.9"/>
<circle cx="332.6" cy="253.17" r="2.05" fill="#5276b8" fill-opacity="0.9"/>
<circle cx="323.21" cy="241.42" r="2.05" fill="#5276b8" fill-opacity="0.9"/>
<circle cx="326.98" cy="237.25" r="2.05" fill="#5276b8" fill-opacity="0.9"/>
<circle cx="330.01" cy="239.52" r="2.05" fill="#5276b8" fill-opacity="0.9"/>
<circle cx="331.26" cy="262.59" r="2.05" fill="#5276b8" fill-opacity="0.9"/>
<circle cx="331.13" cy="252.07" r="2.05" fill="#5276b8" fill-opacity="0.9"/>
<circle cx="326.78" cy="250.29" r="2.05" fill="#5276b8" fill-opacity="0.9"/>
<circle cx="331.28" cy="240.44" r="2.05" fill="#5276b8" fill-opacity="0.9"/>
<circle cx="331.99" cy="259.44" r="2.05" fill="#5276b8" fill-opacity="0.9"/>
<circle cx="327.27" cy="264.79" r="2.05" fill="#5276b8" fill-opacity="0.9"/>
<circle cx="328.71" cy="242.56" r="2.05" fill="#5276b8" fill-opacity="0.9"/>
<circle cx="326.76" cy="245.21" r="2.05" fill="#5276b8" fill-opacity="0.9"/>
<circle cx="329.69" cy="239.51" r="2.05" fill="#5276b8" fill-opacity="0.9"/>
<circle cx="326.59" cy="253.24" r="2.05" fill="#5276b8" fill-opacity="0.9"/>
<circle cx="326.76" cy="233.95" r="2.05" fill="#5276b8" fill-opacity="0.9"/>
<circle cx="332.23" cy="247.97" r="2.05" fill="#5276b8" fill-opacity="0.9"/>
<circle cx="329.68" cy="246.19" r="2.05" fill="#5276b8" fill-opacity="0.9"/>
<circle cx="329.61" cy="248.6" r="2.05" fill="#5276b8" fill-opacity="0.9"/>
<circle cx="328.03" cy="256.43" r="2.05" fill="#5276b8" fill-opacity="0.9"/>
<circle cx="327.12" cy="234.71" r="2.05" fill="#5276b8" fill-opacity="0.9"/>
<circle cx="330.18" cy="236.72" r="2.05" fill="#5276b8" fill-opacity="0.9"/>
<circle cx="330.27" cy="235.82" r="2.05" fill="#5276b8" fill-opacity="0.9"/>
<circle cx="343.83" cy="242.46" r="2.05" fill="#5276b8" fill-opacity="0.9"/>
<circle cx="330.65" cy="238.19" r="2.05" fill="#5276b8" fill-opacity="0.9"/>
<circle cx="340.45" cy="254.05" r="2.05" fill="#5276b8" fill-opacity="0.9"/>
<circle cx="340.89" cy="238.9" r="2.05" fill="#5276b8" fill-opacity="0.9"/>
<circle cx="343.45" cy="230.45" r="2.05" fill="#5276b8" fill-opacity="0.9"/>
<circle cx="333.21" cy="246.13" r="2.05" fill="#5276b8" fill-opacity="0.9"/>
<circle cx="337.86" cy="242.29" r="2.05" fill="#5276b8" fill-opacity="0.9"/>
<circle cx="337.81" cy="241.71" r="2.05" fill="#5276b8" fill-opacity="0.9"/>
<circle cx="341.88" cy="239.93" r="2.05" fill="#5276b8" fill-opacity="0.9"/>
<circle cx="335.68" cy="236.76" r="2.05" fill="#5276b8" fill-opacity="0.9"/>
<circle cx="341.6" cy="254.37" r="2.05" fill="#5276b8" fill-opacity="0.9"/>
<circle cx="342.59" cy="244.32" r="2.05" fill="#5276b8" fill-opacity="0.9"/>
<circle cx="336.48" cy="238.05" r="2.05" fill="#5276b8" fill-opacity="0.9"/>
<circle cx="331.32" cy="260.54" r="2.05" fill="#5276b8" fill-opacity="0.9"/>
<circle cx="345.56" cy="243.59" r="2.05" fill="#5276b8" fill-opacity="0.9"/>
<circle cx="337.49" cy="247.21" r="2.05" fill="#5276b8" fill-opacity="0.9"/>
<circle cx="340.39" cy="235.9" r="2.05" fill="#5276b8" fill-opacity="0.9"/>
<circle cx="339.43" cy="247.22" r="2.05" fill="#5276b8" fill-opacity="0.9"/>
<circle cx="344.66" cy="236.95" r="2.05" fill="#5276b8" fill-opacity="0.9"/>
<circle cx="337.66" cy="260.9" r="2.05" fill="#5276b8" fill-opacity="0.9"/>
<circle cx="340.82" cy="239.05" r="2.05" fill="#5276b8" fill-opacity="0.9"/>
<circle cx="343.64" cy="229.87" r="2.05" fill="#5276b8" fill-opacity="0.9"/>
<circle cx="340.66" cy="244" r="2.05" fill="#5276b8" fill-opacity="0.9"/>
<circle cx="345.01" cy="248.55" r="2.05" fill="#5276b8" fill-opacity="0.9"/>
<circle cx="346.37" cy="232.46" r="2.05" fill="#5276b8" fill-opacity="0.9"/>
<circle cx="343.17" cy="244.31" r="2.05" fill="#5276b8" fill-opacity="0.9"/>
<circle cx="335.25" cy="228.81" r="2.05" fill="#5276b8" fill-opacity="0.9"/>
<circle cx="335.72" cy="251.72" r="2.05" fill="#5276b8" fill-opacity="0.9"/>
<circle cx="331.25" cy="252.76" r="2.05" fill="#5276b8" fill-opacity="0.9"/>
<circle cx="342.79" cy="238.96" r="2.05" fill="#5276b8" fill-opacity="0.9"/>
<circle cx="338.06" cy="227.72" r="2.05" fill="#5276b8" fill-opacity="0.9"/>
<circle cx="330.93" cy="240.1" r="2.05" fill="#5276b8" fill-opacity="0.9"/>
<circle cx="343.32" cy="239.28" r="2.05" fill="#5276b8" fill-opacity="0.9"/>
<circle cx="380.86" cy="233.06" r="2.05" fill="#5276b8" fill-opacity="0.9"/>
<circle cx="352.79" cy="237.67" r="2.05" fill="#5276b8" fill-opacity="0.9"/>
<circle cx="378.07" cy="232.23" r="2.05" fill="#5276b8" fill-opacity="0.9"/>
<circle cx="383.12" cy="245.01" r="2.05" fill="#5276b8" fill-opacity="0.9"/>
<circle cx="368.05" cy="256.88" r="2.05" fill="#5276b8" fill-opacity="0.9"/>
<circle cx="387.85" cy="233.45" r="2.05" fill="#5276b8" fill-opacity="0.9"/>
<circle cx="369.53" cy="237.83" r="2.05" fill="#5276b8" fill-opacity="0.9"/>
<circle cx="359.28" cy="243.3" r="2.05" fill="#5276b8" fill-opacity="0.9"/>
<circle cx="369.36" cy="250.71" r="2.05" fill="#5276b8" fill-opacity="0.9"/>
<circle cx="383.28" cy="244.3" r="2.05" fill="#5276b8" fill-opacity="0.9"/>
<circle cx="363.23" cy="243.66" r="2.05" fill="#5276b8" fill-opacity="0.9"/>
<circle cx="383.35" cy="234.48" r="2.05" fill="#5276b8" fill-opacity="0.9"/>
<circle cx="383.59" cy="241.34" r="2.05" fill="#5276b8" fill-opacity="0.9"/>
<circle cx="388.69" cy="247.04" r="2.05" fill="#5276b8" fill-opacity="0.9"/>
<circle cx="355.41" cy="243.91" r="2.05" fill="#5276b8" fill-opacity="0.9"/>
<circle cx="369.93" cy="250.26" r="2.05" fill="#5276b8" fill-opacity="0.9"/>
<circle cx="347.9" cy="243.75" r="2.05" fill="#5276b8" fill-opacity="0.9"/>
<circle cx="388.73" cy="244.99" r="2.05" fill="#5276b8" fill-opacity="0.9"/>
<circle cx="381.43" cy="239.49" r="2.05" fill="#5276b8" fill-opacity="0.9"/>
<circle cx="371.1" cy="251.3" r="2.05" fill="#5276b8" fill-opacity="0.9"/>
<circle cx="349.55" cy="242.7" r="2.05" fill="#5276b8" fill-opacity="0.9"/>
<circle cx="370.06" cy="255.92" r="2.05" fill="#5276b8" fill-opacity="0.9"/>
<circle cx="386.74" cy="228.65" r="2.05" fill="#5276b8" fill-opacity="0.9"/>
<circle cx="358.37" cy="245.77" r="2.05" fill="#5276b8" fill-opacity="0.9"/>
<circle cx="365.5" cy="240.41" r="2.05" fill="#5276b8" fill-opacity="0.9"/>
<circle cx="382.07" cy="231.99" r="2.05" fill="#5276b8" fill-opacity="0.9"/>
<circle cx="360.45" cy="246.57" r="2.05" fill="#5276b8" fill-opacity="0.9"/>
<circle cx="355" cy="254.69" r="2.05" fill="#5276b8" fill-opacity="0.9"/>
<circle cx="352.31" cy="254.04" r="2.05" fill="#5276b8" fill-opacity="0.9"/>
<circle cx="380.49" cy="234.19" r="2.05" fill="#5276b8" fill-opacity="0.9"/>
<circle cx="356.55" cy="241.64" r="2.05" fill="#5276b8" fill-opacity="0.9"/>
<circle cx="376.49" cy="242.43" r="2.05" fill="#5276b8" fill-opacity="0.9"/>
<circle cx="373.57" cy="233.79" r="2.05" fill="#5276b8" fill-opacity="0.9"/>
<circle cx="351.24" cy="243.52" r="2.05" fill="#5276b8" fill-opacity="0.9"/>
<circle cx="368.83" cy="244.24" r="2.05" fill="#5276b8" fill-opacity="0.9"/>
<circle cx="357.56" cy="239.31" r="2.05" fill="#5276b8" fill-opacity="0.9"/>
<circle cx="365.63" cy="232.6" r="2.05" fill="#5276b8" fill-opacity="0.9"/>
<circle cx="362.99" cy="248.99" r="2.05" fill="#5276b8" fill-opacity="0.9"/>
<circle cx="353.62" cy="238.14" r="2.05" fill="#5276b8" fill-opacity="0.9"/>
<circle cx="355.55" cy="249.46" r="2.05" fill="#5276b8" fill-opacity="0.9"/>
<circle cx="369.66" cy="248.02" r="2.05" fill="#5276b8" fill-opacity="0.9"/>
<circle cx="383.61" cy="249.33" r="2.05" fill="#5276b8" fill-opacity="0.9"/>
<circle cx="356.78" cy="251.49" r="2.05" fill="#5276b8" fill-opacity="0.9"/>
<circle cx="378.82" cy="233.34" r="2.05" fill="#5276b8" fill-opacity="0.9"/>
<circle cx="360.39" cy="256.26" r="2.05" fill="#5276b8" fill-opacity="0.9"/>
<circle cx="360.35" cy="237.29" r="2.05" fill="#5276b8" fill-opacity="0.9"/>
<circle cx="389.99" cy="239.9" r="2.05" fill="#5276b8" fill-opacity="0.9"/>
<circle cx="385.18" cy="234.66" r="2.05" fill="#5276b8" fill-opacity="0.9"/>
<circle cx="378.2" cy="235.23" r="2.05" fill="#5276b8" fill-opacity="0.9"/>
<circle cx="357.95" cy="230.92" r="2.05" fill="#5276b8" fill-opacity="0.9"/>
<circle cx="364.98" cy="233.29" r="2.05" fill="#5276b8" fill-opacity="0.9"/>
<circle cx="380.95" cy="233.67" r="2.05" fill="#5276b8" fill-opacity="0.9"/>
<circle cx="376.41" cy="234.25" r="2.05" fill="#5276b8" fill-opacity="0.9"/>
<circle cx="347.47" cy="240.3" r="2.05" fill="#5276b8" fill-opacity="0.9"/>
<circle cx="386.21" cy="227.64" r="2.05" fill="#5276b8" fill-opacity="0.9"/>
<circle cx="432.71" cy="224.58" r="2.05" fill="#5276b8" fill-opacity="0.9"/>
<circle cx="408.37" cy="232.23" r="2.05" fill="#5276b8" fill-opacity="0.9"/>
<circle cx="394.4" cy="229.94" r="2.05" fill="#5276b8" fill-opacity="0.9"/>
<circle cx="425.46" cy="244.12" r="2.05" fill="#5276b8" fill-opacity="0.9"/>
<circle cx="400.07" cy="233.11" r="2.05" fill="#5276b8" fill-opacity="0.9"/>
<circle cx="432.64" cy="210.52" r="2.05" fill="#5276b8" fill-opacity="0.9"/>
<circle cx="393.98" cy="233.29" r="2.05" fill="#5276b8" fill-opacity="0.9"/>
<circle cx="407.04" cy="228.21" r="2.05" fill="#5276b8" fill-opacity="0.9"/>
<circle cx="414.1" cy="241.9" r="2.05" fill="#5276b8" fill-opacity="0.9"/>
<circle cx="422.71" cy="217.42" r="2.05" fill="#5276b8" fill-opacity="0.9"/>
<circle cx="425.04" cy="227.65" r="2.05" fill="#5276b8" fill-opacity="0.9"/>
<circle cx="433.83" cy="237.11" r="2.05" fill="#5276b8" fill-opacity="0.9"/>
<circle cx="416.36" cy="228.51" r="2.05" fill="#5276b8" fill-opacity="0.9"/>
<circle cx="435.27" cy="227.29" r="2.05" fill="#5276b8" fill-opacity="0.9"/>
<circle cx="408.78" cy="238.56" r="2.05" fill="#5276b8" fill-opacity="0.9"/>
<circle cx="416.27" cy="257.29" r="2.05" fill="#5276b8" fill-opacity="0.9"/>
<circle cx="422.96" cy="233.05" r="2.05" fill="#5276b8" fill-opacity="0.9"/>
<circle cx="440.58" cy="228.96" r="2.05" fill="#5276b8" fill-opacity="0.9"/>
<circle cx="405.47" cy="216.58" r="2.05" fill="#5276b8" fill-opacity="0.9"/>
<circle cx="411.15" cy="230.25" r="2.05" fill="#5276b8" fill-opacity="0.9"/>
<circle cx="406.64" cy="232.6" r="2.05" fill="#5276b8" fill-opacity="0.9"/>
<circle cx="414.19" cy="235.52" r="2.05" fill="#5276b8" fill-opacity="0.9"/>
<circle cx="408.57" cy="240.44" r="2.05" fill="#5276b8" fill-opacity="0.9"/>
<circle cx="437.83" cy="242.04" r="2.05" fill="#5276b8" fill-opacity="0.9"/>
<circle cx="415.96" cy="220.23" r="2.05" fill="#5276b8" fill-opacity="0.9"/>
<circle cx="413.91" cy="233.91" r="2.05" fill="#5276b8" fill-opacity="0.9"/>
<circle cx="413.9" cy="243.37" r="2.05" fill="#5276b8" fill-opacity="0.9"/>
<circle cx="425.89" cy="232.23" r="2.05" fill="#5276b8" fill-opacity="0.9"/>
<circle cx="423.19" cy="239.2" r="2.05" fill="#5276b8" fill-opacity="0.9"/>
<circle cx="430.07" cy="230.05" r="2.05" fill="#5276b8" fill-opacity="0.9"/>
<circle cx="429.99" cy="227.84" r="2.05" fill="#5276b8" fill-opacity="0.9"/>
<circle cx="412.3" cy="235.44" r="2.05" fill="#5276b8" fill-opacity="0.9"/>
<circle cx="393.74" cy="244.68" r="2.05" fill="#5276b8" fill-opacity="0.9"/>
<circle cx="425.21" cy="235.46" r="2.05" fill="#5276b8" fill-opacity="0.9"/>
<circle cx="423.92" cy="234.83" r="2.05" fill="#5276b8" fill-opacity="0.9"/>
<circle cx="429.86" cy="223.02" r="2.05" fill="#5276b8" fill-opacity="0.9"/>
<circle cx="415.52" cy="234.48" r="2.05" fill="#5276b8" fill-opacity="0.9"/>
<circle cx="421.48" cy="242.08" r="2.05" fill="#5276b8" fill-opacity="0.9"/>
<circle cx="429.64" cy="237.1" r="2.05" fill="#5276b8" fill-opacity="0.9"/>
<circle cx="429.94" cy="239.1" r="2.05" fill="#5276b8" fill-opacity="0.9"/>
<circle cx="420.67" cy="232.43" r="2.05" fill="#5276b8" fill-opacity="0.9"/>
<circle cx="393.02" cy="230.47" r="2.05" fill="#5276b8" fill-opacity="0.9"/>
<circle cx="428.39" cy="247.44" r="2.05" fill="#5276b8" fill-opacity="0.9"/>
<circle cx="437.49" cy="205.47" r="2.05" fill="#5276b8" fill-opacity="0.9"/>
<circle cx="433.12" cy="213.7" r="2.05" fill="#5276b8" fill-opacity="0.9"/>
<circle cx="433.52" cy="257.01" r="2.05" fill="#5276b8" fill-opacity="0.9"/>
<circle cx="416.9" cy="228.43" r="2.05" fill="#5276b8" fill-opacity="0.9"/>
<circle cx="421.8" cy="242.39" r="2.05" fill="#5276b8" fill-opacity="0.9"/>
<circle cx="429.33" cy="243.66" r="2.05" fill="#5276b8" fill-opacity="0.9"/>
<circle cx="421.91" cy="238.08" r="2.05" fill="#5276b8" fill-opacity="0.9"/>
<circle cx="417.13" cy="230.24" r="2.05" fill="#5276b8" fill-opacity="0.9"/>
<circle cx="412.9" cy="237.09" r="2.05" fill="#5276b8" fill-opacity="0.9"/>
<circle cx="419.82" cy="241" r="2.05" fill="#5276b8" fill-opacity="0.9"/>
<circle cx="425.91" cy="243.36" r="2.05" fill="#5276b8" fill-opacity="0.9"/>
<circle cx="439.47" cy="236.47" r="2.05" fill="#5276b8" fill-opacity="0.9"/>
<circle cx="396.56" cy="219.12" r="2.05" fill="#5276b8" fill-opacity="0.9"/>
<circle cx="412.69" cy="236.72" r="2.05" fill="#5276b8" fill-opacity="0.9"/>
<circle cx="429.96" cy="243.53" r="2.05" fill="#5276b8" fill-opacity="0.9"/>
<circle cx="418.38" cy="231.85" r="2.05" fill="#5276b8" fill-opacity="0.9"/>
<circle cx="439.57" cy="238.08" r="2.05" fill="#5276b8" fill-opacity="0.9"/>
<circle cx="425.81" cy="233.82" r="2.05" fill="#5276b8" fill-opacity="0.9"/>
<circle cx="404.36" cy="243.69" r="2.05" fill="#5276b8" fill-opacity="0.9"/>
<circle cx="417.81" cy="226.03" r="2.05" fill="#5276b8" fill-opacity="0.9"/>
<circle cx="395.19" cy="237.29" r="2.05" fill="#5276b8" fill-opacity="0.9"/>
<circle cx="412.3" cy="239.48" r="2.05" fill="#5276b8" fill-opacity="0.9"/>
<circle cx="407.97" cy="224.31" r="2.05" fill="#5276b8" fill-opacity="0.9"/>
<circle cx="425.84" cy="235.12" r="2.05" fill="#5276b8" fill-opacity="0.9"/>
<circle cx="431.1" cy="243.44" r="2.05" fill="#5276b8" fill-opacity="0.9"/>
<circle cx="411.98" cy="243.26" r="2.05" fill="#5276b8" fill-opacity="0.9"/>
<circle cx="431.13" cy="241.28" r="2.05" fill="#5276b8" fill-opacity="0.9"/>
<circle cx="434.53" cy="237.39" r="2.05" fill="#5276b8" fill-opacity="0.9"/>
<circle cx="435.08" cy="223.25" r="2.05" fill="#5276b8" fill-opacity="0.9"/>
<circle cx="418.64" cy="216.26" r="2.05" fill="#5276b8" fill-opacity="0.9"/>
<circle cx="395.02" cy="221" r="2.05" fill="#5276b8" fill-opacity="0.9"/>
<circle cx="408.44" cy="230.62" r="2.05" fill="#5276b8" fill-opacity="0.9"/>
<circle cx="429.43" cy="226.2" r="2.05" fill="#5276b8" fill-opacity="0.9"/>
<circle cx="426.96" cy="225.01" r="2.05" fill="#5276b8" fill-opacity="0.9"/>
<circle cx="427.96" cy="234.62" r="2.05" fill="#5276b8" fill-opacity="0.9"/>
<circle cx="408.67" cy="239.18" r="2.05" fill="#5276b8" fill-opacity="0.9"/>
<circle cx="420.37" cy="228.48" r="2.05" fill="#5276b8" fill-opacity="0.9"/>
<circle cx="403.22" cy="240.86" r="2.05" fill="#5276b8" fill-opacity="0.9"/>
<circle cx="433.02" cy="237.2" r="2.05" fill="#5276b8" fill-opacity="0.9"/>
<circle cx="420.76" cy="224.24" r="2.05" fill="#5276b8" fill-opacity="0.9"/>
<circle cx="440.58" cy="239.94" r="2.05" fill="#5276b8" fill-opacity="0.9"/>
<circle cx="408.87" cy="237.91" r="2.05" fill="#5276b8" fill-opacity="0.9"/>
<circle cx="430.92" cy="236.69" r="2.05" fill="#5276b8" fill-opacity="0.9"/>
<circle cx="428.06" cy="228.56" r="2.05" fill="#5276b8" fill-opacity="0.9"/>
<circle cx="411.68" cy="237.39" r="2.05" fill="#5276b8" fill-opacity="0.9"/>
<circle cx="421.32" cy="226.38" r="2.05" fill="#5276b8" fill-opacity="0.9"/>
<circle cx="416.52" cy="237.18" r="2.05" fill="#5276b8" fill-opacity="0.9"/>
<circle cx="399.74" cy="242.05" r="2.05" fill="#5276b8" fill-opacity="0.9"/>
<circle cx="424.97" cy="235.2" r="2.05" fill="#5276b8" fill-opacity="0.9"/>
<circle cx="424.74" cy="235.81" r="2.05" fill="#5276b8" fill-opacity="0.9"/>
<circle cx="427.52" cy="228.79" r="2.05" fill="#5276b8" fill-opacity="0.9"/>
<circle cx="421.22" cy="222.36" r="2.05" fill="#5276b8" fill-opacity="0.9"/>
<circle cx="436.88" cy="231.79" r="2.05" fill="#5276b8" fill-opacity="0.9"/>
<circle cx="430.87" cy="247.82" r="2.05" fill="#5276b8" fill-opacity="0.9"/>
<circle cx="421.42" cy="244.92" r="2.05" fill="#5276b8" fill-opacity="0.9"/>
<circle cx="440.58" cy="243.64" r="2.05" fill="#5276b8" fill-opacity="0.9"/>
<circle cx="424.24" cy="237.41" r="2.05" fill="#5276b8" fill-opacity="0.9"/>
<circle cx="402.08" cy="225.56" r="2.05" fill="#5276b8" fill-opacity="0.9"/>
<circle cx="410.44" cy="225.85" r="2.05" fill="#5276b8" fill-opacity="0.9"/>
<circle cx="405.76" cy="219.01" r="2.05" fill="#5276b8" fill-opacity="0.9"/>
<circle cx="419.95" cy="236.18" r="2.05" fill="#5276b8" fill-opacity="0.9"/>
<circle cx="406.12" cy="236.62" r="2.05" fill="#5276b8" fill-opacity="0.9"/>
<circle cx="426.46" cy="222.87" r="2.05" fill="#5276b8" fill-opacity="0.9"/>
<circle cx="401.05" cy="232.49" r="2.05" fill="#5276b8" fill-opacity="0.9"/>
<circle cx="416.76" cy="207.98" r="2.05" fill="#5276b8" fill-opacity="0.9"/>
<circle cx="406.22" cy="221.78" r="2.05" fill="#5276b8" fill-opacity="0.9"/>
<circle cx="433.38" cy="230.53" r="2.05" fill="#5276b8" fill-opacity="0.9"/>
<circle cx="427.01" cy="249.77" r="2.05" fill="#5276b8" fill-opacity="0.9"/>
<circle cx="396.3" cy="242.36" r="2.05" fill="#5276b8" fill-opacity="0.9"/>
<circle cx="401.7" cy="230.61" r="2.05" fill="#5276b8" fill-opacity="0.9"/>
<circle cx="439.73" cy="231" r="2.05" fill="#5276b8" fill-opacity="0.9"/>
<circle cx="399.47" cy="226.05" r="2.05" fill="#5276b8" fill-opacity="0.9"/>
<circle cx="418.92" cy="221.01" r="2.05" fill="#5276b8" fill-opacity="0.9"/>
<circle cx="415.95" cy="231.04" r="2.05" fill="#5276b8" fill-opacity="0.9"/>
<circle cx="431.67" cy="236.39" r="2.05" fill="#5276b8" fill-opacity="0.9"/>
<circle cx="434.92" cy="234.86" r="2.05" fill="#5276b8" fill-opacity="0.9"/>
<circle cx="393.37" cy="215.99" r="2.05" fill="#5276b8" fill-opacity="0.9"/>
<circle cx="417.86" cy="243.13" r="2.05" fill="#5276b8" fill-opacity="0.9"/>
<circle cx="440.09" cy="233.93" r="2.05" fill="#5276b8" fill-opacity="0.9"/>
<circle cx="423.85" cy="230.59" r="2.05" fill="#5276b8" fill-opacity="0.9"/>
<circle cx="411.26" cy="219.86" r="2.05" fill="#5276b8" fill-opacity="0.9"/>
<circle cx="419.09" cy="235.38" r="2.05" fill="#5276b8" fill-opacity="0.9"/>
<circle cx="406.89" cy="233.1" r="2.05" fill="#5276b8" fill-opacity="0.9"/>
<circle cx="440.58" cy="251.32" r="2.05" fill="#5276b8" fill-opacity="0.9"/>
<circle cx="417.46" cy="254.47" r="2.05" fill="#5276b8" fill-opacity="0.9"/>
<circle cx="429.17" cy="214.53" r="2.05" fill="#5276b8" fill-opacity="0.9"/>
<circle cx="423.9" cy="230.27" r="2.05" fill="#5276b8" fill-opacity="0.9"/>
<circle cx="426.5" cy="235.49" r="2.05" fill="#5276b8" fill-opacity="0.9"/>
<circle cx="414.75" cy="254.98" r="2.05" fill="#5276b8" fill-opacity="0.9"/>
<circle cx="428.67" cy="226.99" r="2.05" fill="#5276b8" fill-opacity="0.9"/>
<circle cx="417.02" cy="250.15" r="2.05" fill="#5276b8" fill-opacity="0.9"/>
<circle cx="431.95" cy="221.54" r="2.05" fill="#5276b8" fill-opacity="0.9"/>
<circle cx="417.89" cy="237.41" r="2.05" fill="#5276b8" fill-opacity="0.9"/>
<circle cx="422.79" cy="235.03" r="2.05" fill="#5276b8" fill-opacity="0.9"/>
<circle cx="406.09" cy="224.47" r="2.05" fill="#5276b8" fill-opacity="0.9"/>
<circle cx="421.67" cy="240.64" r="2.05" fill="#5276b8" fill-opacity="0.9"/>
<circle cx="431.7" cy="226.18" r="2.05" fill="#5276b8" fill-opacity="0.9"/>
<circle cx="440.58" cy="235.63" r="2.05" fill="#5276b8" fill-opacity="0.9"/>
<circle cx="433.54" cy="231.27" r="2.05" fill="#5276b8" fill-opacity="0.9"/>
<circle cx="424.76" cy="219.9" r="2.05" fill="#5276b8" fill-opacity="0.9"/>
<circle cx="440.58" cy="230.07" r="2.05" fill="#5276b8" fill-opacity="0.9"/>
<circle cx="427.49" cy="219.45" r="2.05" fill="#5276b8" fill-opacity="0.9"/>
<circle cx="409.58" cy="239.64" r="2.05" fill="#5276b8" fill-opacity="0.9"/>
<circle cx="410.38" cy="233.94" r="2.05" fill="#5276b8" fill-opacity="0.9"/>
<circle cx="423.46" cy="225.71" r="2.05" fill="#5276b8" fill-opacity="0.9"/>
<circle cx="412.09" cy="212.1" r="2.05" fill="#5276b8" fill-opacity="0.9"/>
<circle cx="422.25" cy="240.3" r="2.05" fill="#5276b8" fill-opacity="0.9"/>
<circle cx="428.4" cy="229.14" r="2.05" fill="#5276b8" fill-opacity="0.9"/>
<circle cx="424.57" cy="233.51" r="2.05" fill="#5276b8" fill-opacity="0.9"/>
<circle cx="417.59" cy="225.44" r="2.05" fill="#5276b8" fill-opacity="0.9"/>
<circle cx="402.16" cy="242.75" r="2.05" fill="#5276b8" fill-opacity="0.9"/>
<circle cx="397.07" cy="235.02" r="2.05" fill="#5276b8" fill-opacity="0.9"/>
<circle cx="425.91" cy="242.07" r="2.05" fill="#5276b8" fill-opacity="0.9"/>
<circle cx="429.09" cy="230.14" r="2.05" fill="#5276b8" fill-opacity="0.9"/>
<circle cx="405.1" cy="236.72" r="2.05" fill="#5276b8" fill-opacity="0.9"/>
<circle cx="410.81" cy="223.53" r="2.05" fill="#5276b8" fill-opacity="0.9"/>
<circle cx="440.58" cy="233.86" r="2.05" fill="#5276b8" fill-opacity="0.9"/>
<circle cx="422.22" cy="233.13" r="2.05" fill="#5276b8" fill-opacity="0.9"/>
<circle cx="407.9" cy="234.58" r="2.05" fill="#5276b8" fill-opacity="0.9"/>
<circle cx="419.85" cy="248.52" r="2.05" fill="#5276b8" fill-opacity="0.9"/>
<circle cx="422.69" cy="236.2" r="2.05" fill="#5276b8" fill-opacity="0.9"/>
<circle cx="419.92" cy="222.26" r="2.05" fill="#5276b8" fill-opacity="0.9"/>
<circle cx="416.45" cy="237.18" r="2.05" fill="#5276b8" fill-opacity="0.9"/>
<circle cx="423.72" cy="220.7" r="2.05" fill="#5276b8" fill-opacity="0.9"/>
<circle cx="422.73" cy="228.79" r="2.05" fill="#5276b8" fill-opacity="0.9"/>
<circle cx="417.98" cy="236.33" r="2.05" fill="#5276b8" fill-opacity="0.9"/>
<circle cx="403.05" cy="236.45" r="2.05" fill="#5276b8" fill-opacity="0.9"/>
<circle cx="420.79" cy="239.92" r="2.05" fill="#5276b8" fill-opacity="0.9"/>
<circle cx="416.49" cy="223.95" r="2.05" fill="#5276b8" fill-opacity="0.9"/>
<circle cx="439.27" cy="218.58" r="2.05" fill="#5276b8" fill-opacity="0.9"/>
<circle cx="440.2" cy="243.16" r="2.05" fill="#5276b8" fill-opacity="0.9"/>
<circle cx="436.07" cy="236.47" r="2.05" fill="#5276b8" fill-opacity="0.9"/>
<circle cx="429.38" cy="243.6" r="2.05" fill="#5276b8" fill-opacity="0.9"/>
<circle cx="431.87" cy="236.79" r="2.05" fill="#5276b8" fill-opacity="0.9"/>
<circle cx="419.39" cy="212.53" r="2.05" fill="#5276b8" fill-opacity="0.9"/>
<circle cx="428.75" cy="221.09" r="2.05" fill="#5276b8" fill-opacity="0.9"/>
<circle cx="392.49" cy="220.2" r="2.05" fill="#5276b8" fill-opacity="0.9"/>
<circle cx="440.58" cy="236.37" r="2.05" fill="#5276b8" fill-opacity="0.9"/>
<circle cx="416.47" cy="232.69" r="2.05" fill="#5276b8" fill-opacity="0.9"/>
<circle cx="413.86" cy="231.41" r="2.05" fill="#5276b8" fill-opacity="0.9"/>
<circle cx="414.15" cy="233.59" r="2.05" fill="#5276b8" fill-opacity="0.9"/>
<circle cx="410.09" cy="237.24" r="2.05" fill="#5276b8" fill-opacity="0.9"/>
<circle cx="421.1" cy="233.02" r="2.05" fill="#5276b8" fill-opacity="0.9"/>
<circle cx="422.78" cy="219.85" r="2.05" fill="#5276b8" fill-opacity="0.9"/>
<circle cx="424.23" cy="217.37" r="2.05" fill="#5276b8" fill-opacity="0.9"/>
<circle cx="440.58" cy="241.48" r="2.05" fill="#5276b8" fill-opacity="0.9"/>
<circle cx="425.69" cy="237.87" r="2.05" fill="#5276b8" fill-opacity="0.9"/>
<circle cx="407.94" cy="257.29" r="2.05" fill="#5276b8" fill-opacity="0.9"/>
<circle cx="426.65" cy="226.07" r="2.05" fill="#5276b8" fill-opacity="0.9"/>
<circle cx="415.55" cy="250.66" r="2.05" fill="#5276b8" fill-opacity="0.9"/>
<circle cx="414.9" cy="241.86" r="2.05" fill="#5276b8" fill-opacity="0.9"/>
<circle cx="422.06" cy="233.33" r="2.05" fill="#5276b8" fill-opacity="0.9"/>
<circle cx="426.8" cy="219.63" r="2.05" fill="#5276b8" fill-opacity="0.9"/>
<circle cx="414.11" cy="231.89" r="2.05" fill="#5276b8" fill-opacity="0.9"/>
<circle cx="415.12" cy="227.59" r="2.05" fill="#5276b8" fill-opacity="0.9"/>
<circle cx="425.95" cy="241.43" r="2.05" fill="#5276b8" fill-opacity="0.9"/>
<circle cx="425.42" cy="232.14" r="2.05" fill="#5276b8" fill-opacity="0.9"/>
<circle cx="424.33" cy="223.96" r="2.05" fill="#5276b8" fill-opacity="0.9"/>
<circle cx="424.08" cy="228.45" r="2.05" fill="#5276b8" fill-opacity="0.9"/>
<circle cx="438.36" cy="234.89" r="2.05" fill="#5276b8" fill-opacity="0.9"/>
<circle cx="407.64" cy="223.92" r="2.05" fill="#5276b8" fill-opacity="0.9"/>
<circle cx="427.99" cy="250.54" r="2.05" fill="#5276b8" fill-opacity="0.9"/>
<circle cx="430.26" cy="240.26" r="2.05" fill="#5276b8" fill-opacity="0.9"/>
<circle cx="417.61" cy="231.68" r="2.05" fill="#5276b8" fill-opacity="0.9"/>
<circle cx="405.77" cy="232.08" r="2.05" fill="#5276b8" fill-opacity="0.9"/>
<circle cx="394.01" cy="218.32" r="2.05" fill="#5276b8" fill-opacity="0.9"/>
<circle cx="412.36" cy="239.72" r="2.05" fill="#5276b8" fill-opacity="0.9"/>
<circle cx="392.45" cy="222.2" r="2.05" fill="#5276b8" fill-opacity="0.9"/>
<circle cx="419.52" cy="221.66" r="2.05" fill="#5276b8" fill-opacity="0.9"/>
<circle cx="435.05" cy="233.49" r="2.05" fill="#5276b8" fill-opacity="0.9"/>
<circle cx="405.57" cy="214.27" r="2.05" fill="#5276b8" fill-opacity="0.9"/>
<circle cx="432.53" cy="241.34" r="2.05" fill="#5276b8" fill-opacity="0.9"/>
<circle cx="417.62" cy="230.99" r="2.05" fill="#5276b8" fill-opacity="0.9"/>
<circle cx="430.52" cy="232.16" r="2.05" fill="#5276b8" fill-opacity="0.9"/>
<circle cx="431.22" cy="213.91" r="2.05" fill="#5276b8" fill-opacity="0.9"/>
<circle cx="396.17" cy="233.21" r="2.05" fill="#5276b8" fill-opacity="0.9"/>
<circle cx="415.08" cy="221.84" r="2.05" fill="#5276b8" fill-opacity="0.9"/>
<circle cx="425.47" cy="242.83" r="2.05" fill="#5276b8" fill-opacity="0.9"/>
<circle cx="419.88" cy="230.69" r="2.05" fill="#5276b8" fill-opacity="0.9"/>
<circle cx="406.16" cy="233.51" r="2.05" fill="#5276b8" fill-opacity="0.9"/>
<circle cx="402.6" cy="238.01" r="2.05" fill="#5276b8" fill-opacity="0.9"/>
<circle cx="426.19" cy="240.76" r="2.05" fill="#5276b8" fill-opacity="0.9"/>
<circle cx="433.83" cy="240.31" r="2.05" fill="#5276b8" fill-opacity="0.9"/>
<circle cx="405.85" cy="219.49" r="2.05" fill="#5276b8" fill-opacity="0.9"/>
<circle cx="422.69" cy="238.17" r="2.05" fill="#5276b8" fill-opacity="0.9"/>
<circle cx="439.73" cy="242.7" r="2.05" fill="#5276b8" fill-opacity="0.9"/>
<circle cx="428.27" cy="219.77" r="2.05" fill="#5276b8" fill-opacity="0.9"/>
<circle cx="403.36" cy="228.41" r="2.05" fill="#5276b8" fill-opacity="0.9"/>
<circle cx="430.81" cy="227.97" r="2.05" fill="#5276b8" fill-opacity="0.9"/>
<circle cx="423.95" cy="224.38" r="2.05" fill="#5276b8" fill-opacity="0.9"/>
<circle cx="432.13" cy="213.52" r="2.05" fill="#5276b8" fill-opacity="0.9"/>
<circle cx="434.73" cy="229.79" r="2.05" fill="#5276b8" fill-opacity="0.9"/>
<circle cx="406.32" cy="217.64" r="2.05" fill="#5276b8" fill-opacity="0.9"/>
<circle cx="429.23" cy="221.15" r="2.05" fill="#5276b8" fill-opacity="0.9"/>
<circle cx="414.33" cy="221.35" r="2.05" fill="#5276b8" fill-opacity="0.9"/>
<circle cx="411.81" cy="233.15" r="2.05" fill="#5276b8" fill-opacity="0.9"/>
<circle cx="418.82" cy="242.42" r="2.05" fill="#5276b8" fill-opacity="0.9"/>
<circle cx="431.82" cy="217.46" r="2.05" fill="#5276b8" fill-opacity="0.9"/>
<circle cx="421.11" cy="231.05" r="2.05" fill="#5276b8" fill-opacity="0.9"/>
<circle cx="434.58" cy="228.19" r="2.05" fill="#5276b8" fill-opacity="0.9"/>
<circle cx="415.2" cy="248.18" r="2.05" fill="#5276b8" fill-opacity="0.9"/>
<circle cx="419.72" cy="234.5" r="2.05" fill="#5276b8" fill-opacity="0.9"/>
<circle cx="423.76" cy="234.67" r="2.05" fill="#5276b8" fill-opacity="0.9"/>
<circle cx="410.89" cy="229.68" r="2.05" fill="#5276b8" fill-opacity="0.9"/>
<circle cx="415.55" cy="227.1" r="2.05" fill="#5276b8" fill-opacity="0.9"/>
<circle cx="416.37" cy="229.35" r="2.05" fill="#5276b8" fill-opacity="0.9"/>
<circle cx="440.58" cy="222.96" r="2.05" fill="#5276b8" fill-opacity="0.9"/>
<circle cx="406.5" cy="236.45" r="2.05" fill="#5276b8" fill-opacity="0.9"/>
<circle cx="398.16" cy="233.01" r="2.05" fill="#5276b8" fill-opacity="0.9"/>
<circle cx="421.76" cy="229.42" r="2.05" fill="#5276b8" fill-opacity="0.9"/>
<circle cx="422.49" cy="219.5" r="2.05" fill="#5276b8" fill-opacity="0.9"/>
<circle cx="431.66" cy="228.57" r="2.05" fill="#5276b8" fill-opacity="0.9"/>
<circle cx="415.32" cy="169.32" r="2.05" fill="#5276b8" fill-opacity="0.9"/>
<circle cx="411.95" cy="180.17" r="2.05" fill="#5276b8" fill-opacity="0.9"/>
<circle cx="421.21" cy="191.01" r="2.05" fill="#5276b8" fill-opacity="0.9"/>
<circle cx="435.1" cy="263.91" r="2.05" fill="#5276b8" fill-opacity="0.9"/>
<circle cx="331.12" cy="215.71" r="2.05" fill="#5276b8" fill-opacity="0.9"/>
<circle cx="371.95" cy="217.52" r="2.05" fill="#5276b8" fill-opacity="0.9"/>
<circle cx="350.9" cy="220.53" r="2.05" fill="#5276b8" fill-opacity="0.9"/>
<circle cx="334.06" cy="221.14" r="2.05" fill="#5276b8" fill-opacity="0.9"/>
<circle cx="401.42" cy="257.29" r="2.05" fill="#5276b8" fill-opacity="0.9"/>
<line x1="321.43" y1="247.89" x2="441.42" y2="228.12" stroke="#cc5a60" stroke-width="1.4" />
<line x1="500" y1="12.7" x2="500" y2="121.1" stroke="#555555" stroke-width="1.1" />
<line x1="499.5" y1="120.6" x2="674" y2="120.6" stroke="#555555" stroke-width="1.1" />
<line x1="496.7" y1="102.43" x2="500" y2="102.43" stroke="#555555" stroke-width="1" />
<text x="495.2" y="105.96" font-size="9.8" fill="#3a3a3a" stroke="#3a3a3a" stroke-width="0.12" text-anchor="end" font-family='"Liberation Sans", sans-serif' >0.2</text>
<line x1="496.7" y1="78.57" x2="500" y2="78.57" stroke="#555555" stroke-width="1" />
<text x="495.2" y="82.1" font-size="9.8" fill="#3a3a3a" stroke="#3a3a3a" stroke-width="0.12" text-anchor="end" font-family='"Liberation Sans", sans-serif' >0.4</text>
<line x1="496.7" y1="54.7" x2="500" y2="54.7" stroke="#555555" stroke-width="1" />
<text x="495.2" y="58.23" font-size="9.8" fill="#3a3a3a" stroke="#3a3a3a" stroke-width="0.12" text-anchor="end" font-family='"Liberation Sans", sans-serif' >0.6</text>
<line x1="496.7" y1="30.84" x2="500" y2="30.84" stroke="#555555" stroke-width="1" />
<text x="495.2" y="34.36" font-size="9.8" fill="#3a3a3a" stroke="#3a3a3a" stroke-width="0.12" text-anchor="end" font-family='"Liberation Sans", sans-serif' >0.8</text>
<line x1="507.55" y1="120.6" x2="507.55" y2="123.6" stroke="#555555" stroke-width="1" />
<text x="507.55" y="134" font-size="11.3" fill="#3a3a3a" stroke="#3a3a3a" stroke-width="0.12" text-anchor="middle" font-family='"Liberation Sans", sans-serif' >−10</text>
<line x1="530.12" y1="120.6" x2="530.12" y2="123.6" stroke="#555555" stroke-width="1" />
<line x1="552.7" y1="120.6" x2="552.7" y2="123.6" stroke="#555555" stroke-width="1" />
<text x="552.7" y="134" font-size="11.3" fill="#3a3a3a" stroke="#3a3a3a" stroke-width="0.12" text-anchor="middle" font-family='"Liberation Sans", sans-serif' >0</text>
<line x1="575.28" y1="120.6" x2="575.28" y2="123.6" stroke="#555555" stroke-width="1" />
<line x1="597.85" y1="120.6" x2="597.85" y2="123.6" stroke="#555555" stroke-width="1" />
<text x="597.85" y="134" font-size="11.3" fill="#3a3a3a" stroke="#3a3a3a" stroke-width="0.12" text-anchor="middle" font-family='"Liberation Sans", sans-serif' >10</text>
<line x1="620.43" y1="120.6" x2="620.43" y2="123.6" stroke="#555555" stroke-width="1" />
<line x1="643" y1="120.6" x2="643" y2="123.6" stroke="#555555" stroke-width="1" />
<text x="643" y="134" font-size="11.3" fill="#3a3a3a" stroke="#3a3a3a" stroke-width="0.12" text-anchor="middle" font-family='"Liberation Sans", sans-serif' >20</text>
<line x1="665.58" y1="120.6" x2="665.58" y2="123.6" stroke="#555555" stroke-width="1" />
<text x="586.2" y="145.2" font-size="12.3" fill="#2a2a2a" stroke="#2a2a2a" stroke-width="0.28" text-anchor="middle" font-family='"Liberation Sans", sans-serif' >Trials from rule reversal</text>
<text transform="translate(476.8,64.2) rotate(-90)" font-size="10.6" fill="#2a2a2a" stroke="#2a2a2a" stroke-width="0.28" text-anchor="middle" font-family='"Liberation Sans", sans-serif'>% correct choice</text>
<line x1="500.5" y1="66.63" x2="674" y2="66.63" stroke="#8c8c8c" stroke-width="1.3" stroke-dasharray="6 3.5"/>
<line x1="552.7" y1="12.7" x2="552.7" y2="120.6" stroke="#8c8c8c" stroke-width="1.3" stroke-dasharray="4 3"/>
<path d="M507.55,20.36 L512.07,20.24 L516.58,20.24 L521.1,24.53 L525.61,22.86 L530.12,21.07 L534.64,19.88 L539.16,17.49 L543.67,21.67 L548.19,16.9 L552.7,20.48 L557.22,113.6 L561.73,99.68 L566.25,91.96 L570.76,85.67 L575.28,70.12 L579.79,63.63 L584.31,57.35 L588.82,52.81 L593.34,48.28 L597.85,43.94 L602.37,41.04 L606.88,38.26 L611.39,36.91 L615.91,33.21 L620.43,30.82 L624.94,30.82 L629.46,32.37 L633.97,29.27 L638.49,26.88 L643,27.84 L647.52,27.84 L652.03,28.07 L656.55,29.63 L661.06,30.82 L665.58,27.24 L665.58,33.24 L661.06,36.82 L656.55,35.63 L652.03,34.07 L647.52,33.84 L643,33.84 L638.49,32.88 L633.97,35.27 L629.46,38.37 L624.94,36.82 L620.43,36.82 L615.91,39.21 L611.39,42.91 L606.88,44.66 L602.37,47.84 L597.85,51.14 L593.34,55.88 L588.82,60.41 L584.31,64.95 L579.79,70.83 L575.28,76.52 L570.76,91.27 L566.25,97.16 L561.73,104.48 L557.22,118 L552.7,26.88 L548.19,23.3 L543.67,28.07 L539.16,23.89 L534.64,26.28 L530.12,27.47 L525.61,29.26 L521.1,30.93 L516.58,26.64 L512.07,26.64 L507.55,26.76Z" fill="#3b4dad" fill-opacity="0.2" stroke="none"/>
<path d="M507.55,29.22 L512.07,37.57 L516.58,32.2 L521.1,32.2 L525.61,31.6 L530.12,28.02 L534.64,30.41 L539.16,31.6 L543.67,28.62 L548.19,31.01 L552.7,28.62 L557.22,105.16 L561.73,95.89 L566.25,89.61 L570.76,84.75 L575.28,78.59 L579.79,76.95 L584.31,69.32 L588.82,57.15 L593.34,67.77 L597.85,52.81 L602.37,51.1 L606.88,48.72 L611.39,53.73 L615.91,46.33 L620.43,48.72 L624.94,42.99 L629.46,42.51 L633.97,37.86 L638.49,31.77 L643,33.2 L647.52,36.31 L652.03,33.2 L656.55,34.75 L661.06,26.64 L665.58,30.82 L665.58,38.02 L661.06,33.84 L656.55,41.95 L652.03,40.4 L647.52,43.51 L643,40.4 L638.49,38.97 L633.97,45.06 L629.46,49.71 L624.94,50.19 L620.43,55.92 L615.91,53.53 L611.39,60.93 L606.88,55.92 L602.37,58.3 L597.85,60.41 L593.34,75.77 L588.82,65.15 L584.31,77.32 L579.79,84.95 L575.28,86.19 L570.76,91.95 L566.25,96.41 L561.73,102.29 L557.22,111.16 L552.7,39.02 L548.19,41.41 L543.67,39.02 L539.16,42 L534.64,40.81 L530.12,38.42 L525.61,42 L521.1,42.6 L516.58,42.6 L512.07,47.97 L507.55,39.62Z" fill="#d8262c" fill-opacity="0.2" stroke="none"/>
<path d="M507.55,23.56 L512.07,23.44 L516.58,23.44 L521.1,27.73 L525.61,26.06 L530.12,24.27 L534.64,23.08 L539.16,20.69 L543.67,24.87 L548.19,20.1 L552.7,23.68 L557.22,115.8 L561.73,102.08 L566.25,94.56 L570.76,88.47 L575.28,73.32 L579.79,67.23 L584.31,61.15 L588.82,56.61 L593.34,52.08 L597.85,47.54 L602.37,44.44 L606.88,41.46 L611.39,39.91 L615.91,36.21 L620.43,33.82 L624.94,33.82 L629.46,35.37 L633.97,32.27 L638.49,29.88 L643,30.84 L647.52,30.84 L652.03,31.07 L656.55,32.63 L661.06,33.82 L665.58,30.24" fill="none" stroke="#3b4dad" stroke-width="1.6" stroke-linejoin="round" />
<path d="M507.55,34.42 L512.07,42.77 L516.58,37.4 L521.1,37.4 L525.61,36.8 L530.12,33.22 L534.64,35.61 L539.16,36.8 L543.67,33.82 L548.19,36.21 L552.7,33.82 L557.22,108.16 L561.73,99.09 L566.25,93.01 L570.76,88.35 L575.28,82.39 L579.79,80.95 L584.31,73.32 L588.82,61.15 L593.34,71.77 L597.85,56.61 L602.37,54.7 L606.88,52.32 L611.39,57.33 L615.91,49.93 L620.43,52.32 L624.94,46.59 L629.46,46.11 L633.97,41.46 L638.49,35.37 L643,36.8 L647.52,39.91 L652.03,36.8 L656.55,38.35 L661.06,30.24 L665.58,34.42" fill="none" stroke="#d8262c" stroke-width="1.6" stroke-linejoin="round" />
<line x1="630" y1="103.2" x2="645.2" y2="103.2" stroke="#3b4dad" stroke-width="1.6" />
<line x1="630" y1="112.4" x2="645.2" y2="112.4" stroke="#d8262c" stroke-width="1.6" />
<text x="652.6" y="106.8" font-size="10.5" fill="#555" stroke="#555" stroke-width="0.28" text-anchor="start" font-family='"Liberation Sans", sans-serif' >MB</text>
<text x="652.6" y="116" font-size="10.5" fill="#555" stroke="#555" stroke-width="0.28" text-anchor="start" font-family='"Liberation Sans", sans-serif' >MF</text>
<line x1="486.6" y1="166.7" x2="486.6" y2="277.7" stroke="#555555" stroke-width="1.1" />
<line x1="486.1" y1="277.2" x2="562" y2="277.2" stroke="#555555" stroke-width="1.1" />
<line x1="483.3" y1="275.3" x2="486.6" y2="275.3" stroke="#555555" stroke-width="1" />
<text x="482.1" y="278.68" font-size="9.4" fill="#3a3a3a" stroke="#3a3a3a" stroke-width="0.12" text-anchor="end" font-family='"Liberation Sans", sans-serif' >0.8</text>
<line x1="483.3" y1="257.1" x2="486.6" y2="257.1" stroke="#555555" stroke-width="1" />
<text x="482.1" y="260.48" font-size="9.4" fill="#3a3a3a" stroke="#3a3a3a" stroke-width="0.12" text-anchor="end" font-family='"Liberation Sans", sans-serif' >1.0</text>
<line x1="483.3" y1="238.9" x2="486.6" y2="238.9" stroke="#555555" stroke-width="1" />
<text x="482.1" y="242.28" font-size="9.4" fill="#3a3a3a" stroke="#3a3a3a" stroke-width="0.12" text-anchor="end" font-family='"Liberation Sans", sans-serif' >1.2</text>
<line x1="483.3" y1="220.7" x2="486.6" y2="220.7" stroke="#555555" stroke-width="1" />
<text x="482.1" y="224.08" font-size="9.4" fill="#3a3a3a" stroke="#3a3a3a" stroke-width="0.12" text-anchor="end" font-family='"Liberation Sans", sans-serif' >1.4</text>
<line x1="483.3" y1="202.5" x2="486.6" y2="202.5" stroke="#555555" stroke-width="1" />
<text x="482.1" y="205.88" font-size="9.4" fill="#3a3a3a" stroke="#3a3a3a" stroke-width="0.12" text-anchor="end" font-family='"Liberation Sans", sans-serif' >1.6</text>
<line x1="483.3" y1="184.3" x2="486.6" y2="184.3" stroke="#555555" stroke-width="1" />
<text x="482.1" y="187.68" font-size="9.4" fill="#3a3a3a" stroke="#3a3a3a" stroke-width="0.12" text-anchor="end" font-family='"Liberation Sans", sans-serif' >1.8</text>
<line x1="498" y1="277.2" x2="498" y2="280.2" stroke="#555555" stroke-width="1" />
<line x1="528.4" y1="277.2" x2="528.4" y2="280.2" stroke="#555555" stroke-width="1" />
<line x1="556.3" y1="277.2" x2="556.3" y2="280.2" stroke="#555555" stroke-width="1" />
<text x="497" y="289.2" font-size="10.3" fill="#2a2a2a" stroke="#2a2a2a" stroke-width="0.28" text-anchor="middle" font-family='"Liberation Sans", sans-serif' >SS</text>
<text x="527.2" y="289.2" font-size="10.3" fill="#2a2a2a" stroke="#2a2a2a" stroke-width="0.28" text-anchor="middle" font-family='"Liberation Sans", sans-serif'>SW<tspan font-size="6.386" dy="1" stroke-width="0.12">MF</tspan></text>
<text x="558" y="289.2" font-size="10.3" fill="#2a2a2a" stroke="#2a2a2a" stroke-width="0.28" text-anchor="middle" font-family='"Liberation Sans", sans-serif'>SW<tspan font-size="6.386" dy="1" stroke-width="0.12">MB</tspan></text>
<text transform="translate(466.6,226.8) rotate(-90)" font-size="10.3" fill="#2a2a2a" stroke="#2a2a2a" stroke-width="0.28" text-anchor="middle" font-family='"Liberation Sans", sans-serif'>Cortico-cortical</text>
<path d="M498,183.39 L528.4,235.26 L556.3,270.3" fill="none" stroke="#1a1a1a" stroke-width="1.25" stroke-linejoin="round" />
<line x1="498" y1="181.12" x2="498" y2="185.66" stroke="#333" stroke-width="1.1" />
<line x1="496.2" y1="181.12" x2="499.8" y2="181.12" stroke="#333" stroke-width="1.1" />
<line x1="496.2" y1="185.66" x2="499.8" y2="185.66" stroke="#333" stroke-width="1.1" />
<circle cx="498" cy="183.39" r="1.6" fill="#1a1a1a"/>
<line x1="528.4" y1="232.99" x2="528.4" y2="237.54" stroke="#333" stroke-width="1.1" />
<line x1="526.6" y1="232.99" x2="530.2" y2="232.99" stroke="#333" stroke-width="1.1" />
<line x1="526.6" y1="237.54" x2="530.2" y2="237.54" stroke="#333" stroke-width="1.1" />
<circle cx="528.4" cy="235.26" r="1.6" fill="#1a1a1a"/>
<line x1="556.3" y1="268.02" x2="556.3" y2="272.57" stroke="#333" stroke-width="1.1" />
<line x1="554.5" y1="268.02" x2="558.1" y2="268.02" stroke="#333" stroke-width="1.1" />
<line x1="554.5" y1="272.57" x2="558.1" y2="272.57" stroke="#333" stroke-width="1.1" />
<circle cx="556.3" cy="270.3" r="1.6" fill="#1a1a1a"/>
<line x1="498.2" y1="167.4" x2="526.7" y2="167.4" stroke="#888" stroke-width="1.4" />
<line x1="527.8" y1="163.2" x2="554.1" y2="163.2" stroke="#888" stroke-width="1.4" />
<line x1="498.2" y1="175.3" x2="554.1" y2="175.3" stroke="#888" stroke-width="1.4" />
<text x="513.6" y="169.6" font-size="8.7" fill="#555" stroke="#555" stroke-width="0" text-anchor="middle" font-family='"Liberation Sans", sans-serif' >****</text>
<text x="540.4" y="165.7" font-size="8.7" fill="#555" stroke="#555" stroke-width="0" text-anchor="middle" font-family='"Liberation Sans", sans-serif' >****</text>
<text x="528.6" y="177.8" font-size="8.7" fill="#555" stroke="#555" stroke-width="0" text-anchor="middle" font-family='"Liberation Sans", sans-serif' >****</text>
<line x1="594.5" y1="166.7" x2="594.5" y2="278.7" stroke="#555555" stroke-width="1.1" />
<line x1="594" y1="278.2" x2="679" y2="278.2" stroke="#555555" stroke-width="1.1" />
<line x1="591.2" y1="275.5" x2="594.5" y2="275.5" stroke="#555555" stroke-width="1" />
<text x="590" y="278.88" font-size="9.4" fill="#3a3a3a" stroke="#3a3a3a" stroke-width="0.12" text-anchor="end" font-family='"Liberation Sans", sans-serif' >1.2</text>
<line x1="591.2" y1="254.54" x2="594.5" y2="254.54" stroke="#555555" stroke-width="1" />
<text x="590" y="257.92" font-size="9.4" fill="#3a3a3a" stroke="#3a3a3a" stroke-width="0.12" text-anchor="end" font-family='"Liberation Sans", sans-serif' >1.3</text>
<line x1="591.2" y1="233.58" x2="594.5" y2="233.58" stroke="#555555" stroke-width="1" />
<text x="590" y="236.96" font-size="9.4" fill="#3a3a3a" stroke="#3a3a3a" stroke-width="0.12" text-anchor="end" font-family='"Liberation Sans", sans-serif' >1.4</text>
<line x1="591.2" y1="212.62" x2="594.5" y2="212.62" stroke="#555555" stroke-width="1" />
<text x="590" y="216" font-size="9.4" fill="#3a3a3a" stroke="#3a3a3a" stroke-width="0.12" text-anchor="end" font-family='"Liberation Sans", sans-serif' >1.5</text>
<line x1="591.2" y1="191.66" x2="594.5" y2="191.66" stroke="#555555" stroke-width="1" />
<text x="590" y="195.04" font-size="9.4" fill="#3a3a3a" stroke="#3a3a3a" stroke-width="0.12" text-anchor="end" font-family='"Liberation Sans", sans-serif' >1.6</text>
<line x1="591.2" y1="170.7" x2="594.5" y2="170.7" stroke="#555555" stroke-width="1" />
<text x="590" y="174.08" font-size="9.4" fill="#3a3a3a" stroke="#3a3a3a" stroke-width="0.12" text-anchor="end" font-family='"Liberation Sans", sans-serif' >1.7</text>
<line x1="607.5" y1="278.2" x2="607.5" y2="281.2" stroke="#555555" stroke-width="1" />
<line x1="637.3" y1="278.2" x2="637.3" y2="281.2" stroke="#555555" stroke-width="1" />
<line x1="669.8" y1="278.2" x2="669.8" y2="281.2" stroke="#555555" stroke-width="1" />
<text x="606.8" y="290.4" font-size="10.3" fill="#2a2a2a" stroke="#2a2a2a" stroke-width="0.28" text-anchor="middle" font-family='"Liberation Sans", sans-serif' >SS</text>
<text x="637.5" y="290.4" font-size="10.3" fill="#2a2a2a" stroke="#2a2a2a" stroke-width="0.28" text-anchor="middle" font-family='"Liberation Sans", sans-serif'>SW<tspan font-size="6.386" dy="1" stroke-width="0.12">MF</tspan></text>
<text x="668.5" y="290.4" font-size="10.3" fill="#2a2a2a" stroke="#2a2a2a" stroke-width="0.28" text-anchor="middle" font-family='"Liberation Sans", sans-serif'>SW<tspan font-size="6.386" dy="1" stroke-width="0.12">MB</tspan></text>
<text transform="translate(575.8,224.5) rotate(-90)" font-size="10.3" fill="#2a2a2a" stroke="#2a2a2a" stroke-width="0.28" text-anchor="middle" font-family='"Liberation Sans", sans-serif'>Thalamocortical</text>
<path d="M607.5,267.54 L637.3,217.86 L669.8,182.23" fill="none" stroke="#1a1a1a" stroke-width="1.25" stroke-linejoin="round" />
<line x1="607.5" y1="262.3" x2="607.5" y2="272.78" stroke="#444" stroke-width="1.1" />
<line x1="605.7" y1="262.3" x2="609.3" y2="262.3" stroke="#444" stroke-width="1.1" />
<line x1="605.7" y1="272.78" x2="609.3" y2="272.78" stroke="#444" stroke-width="1.1" />
<circle cx="607.5" cy="267.54" r="1.6" fill="#1a1a1a"/>
<line x1="637.3" y1="210.52" x2="637.3" y2="225.2" stroke="#444" stroke-width="1.1" />
<line x1="635.5" y1="210.52" x2="639.1" y2="210.52" stroke="#444" stroke-width="1.1" />
<line x1="635.5" y1="225.2" x2="639.1" y2="225.2" stroke="#444" stroke-width="1.1" />
<circle cx="637.3" cy="217.86" r="1.6" fill="#1a1a1a"/>
<line x1="669.8" y1="177.62" x2="669.8" y2="186.84" stroke="#444" stroke-width="1.1" />
<line x1="668" y1="177.62" x2="671.6" y2="177.62" stroke="#444" stroke-width="1.1" />
<line x1="668" y1="186.84" x2="671.6" y2="186.84" stroke="#444" stroke-width="1.1" />
<circle cx="669.8" cy="182.23" r="1.6" fill="#1a1a1a"/>
<line x1="607.1" y1="164.9" x2="633.4" y2="164.9" stroke="#888" stroke-width="1.4" />
<line x1="635.6" y1="160.8" x2="669" y2="160.8" stroke="#888" stroke-width="1.4" />
<line x1="607.1" y1="173" x2="670.1" y2="173" stroke="#888" stroke-width="1.4" />
<text x="619.7" y="165.7" font-size="8.9" fill="#666" stroke="#666" stroke-width="0" text-anchor="middle" font-family='"Liberation Sans", sans-serif' >****</text>
<text x="651.7" y="162.4" font-size="8.9" fill="#666" stroke="#666" stroke-width="0" text-anchor="middle" font-family='"Liberation Sans", sans-serif' >****</text>
<text x="640.6" y="174.4" font-size="8.9" fill="#666" stroke="#666" stroke-width="0" text-anchor="middle" font-family='"Liberation Sans", sans-serif' >****</text>
<line x1="37.5" y1="294.3" x2="37.5" y2="441.7" stroke="#555555" stroke-width="1.1" />
<line x1="37" y1="441.2" x2="207.2" y2="441.2" stroke="#555555" stroke-width="1.1" />
<line x1="34.2" y1="436.1" x2="37.5" y2="436.1" stroke="#555555" stroke-width="1" />
<text x="32.7" y="440.49" font-size="12.2" fill="#444" stroke="#444" stroke-width="0.12" text-anchor="end" font-family='"Liberation Sans", sans-serif' >0.0</text>
<line x1="34.2" y1="403.9" x2="37.5" y2="403.9" stroke="#555555" stroke-width="1" />
<line x1="34.2" y1="371.7" x2="37.5" y2="371.7" stroke="#555555" stroke-width="1" />
<line x1="34.2" y1="339.5" x2="37.5" y2="339.5" stroke="#555555" stroke-width="1" />
<line x1="34.2" y1="307.3" x2="37.5" y2="307.3" stroke="#555555" stroke-width="1" />
<text x="32.7" y="311.69" font-size="12.2" fill="#444" stroke="#444" stroke-width="0.12" text-anchor="end" font-family='"Liberation Sans", sans-serif' >2.0</text>
<line x1="45" y1="441.2" x2="45" y2="445.2" stroke="#555555" stroke-width="1" />
<line x1="84.5" y1="441.2" x2="84.5" y2="445.2" stroke="#555555" stroke-width="1" />
<line x1="124" y1="441.2" x2="124" y2="445.2" stroke="#555555" stroke-width="1" />
<line x1="163.5" y1="441.2" x2="163.5" y2="445.2" stroke="#555555" stroke-width="1" />
<line x1="203" y1="441.2" x2="203" y2="445.2" stroke="#555555" stroke-width="1" />
<text x="42.8" y="455.8" font-size="12.2" fill="#1e1e1e" stroke="#1e1e1e" stroke-width="0.28" text-anchor="middle" font-family='"Liberation Sans", sans-serif' >-20</text>
<text x="202.4" y="456.6" font-size="12.2" fill="#1e1e1e" stroke="#1e1e1e" stroke-width="0.28" text-anchor="middle" font-family='"Liberation Sans", sans-serif' >20</text>
<text x="123.5" y="460.9" font-size="12.3" fill="#1e1e1e" stroke="#1e1e1e" stroke-width="0.28" text-anchor="middle" font-family='"Liberation Sans", sans-serif' >Trials from rule reversal</text>
<text transform="translate(23,367) rotate(-90)" font-size="11.8" fill="#333" stroke="#333" stroke-width="0.28" text-anchor="middle" font-family='"Liberation Sans", sans-serif'>MDI firing rate</text>
<line x1="124" y1="294.4" x2="124" y2="441.2" stroke="#8c8c8c" stroke-width="1.5" stroke-dasharray="5 3"/>
<path d="M45,301.2 L52.4,302.7 L58.6,303.9 L64.8,305.5 L69.8,307.4 L72.9,307.4 L76.6,311.1 L80.9,310.5 L84,310.8 L86.5,313.6 L89.6,315.5 L93.3,317.3" fill="none" stroke="#3b4dad" stroke-opacity="0.18" stroke-width="4.4" stroke-linejoin="round" stroke-linecap="butt"/>
<path d="M89.6,315.5 L93.3,317.3 L96.5,322.3 L99.6,324.8 L103.3,327 L107,327.9 L110.7,329.1 L114.4,331 L118.2,334.7 L121.9,339 L124,341.5 L125.4,350.8 L127.6,361.7 L129.8,372.5 L131.9,383.4 L135.2,394.2 L138.4,405 L141.7,411.6 L146,418.1 L150.4,421.3" fill="none" stroke="#3b4dad" stroke-opacity="0.18" stroke-width="6.8" stroke-linejoin="round" stroke-linecap="butt"/>
<path d="M146,418.1 L150.4,421.3 L154.7,425.6 L159,428.9 L163.4,429.3 L167.7,431.5 L172,430.6 L176.4,428.9 L180.7,427.8 L185,427.2 L188.3,426.7 L191.6,428.9 L194.8,426.7 L199.1,426.3" fill="none" stroke="#3b4dad" stroke-opacity="0.18" stroke-width="4.8" stroke-linejoin="round" stroke-linecap="butt"/>
<path d="M44.5,434.3 L55.3,431 L66.2,427.8 L77,423.4 L85.7,421.3" fill="none" stroke="#3b4dad" stroke-opacity="0.18" stroke-width="4" stroke-linejoin="round" stroke-linecap="butt"/>
<path d="M85.7,421.3 L92.2,418 L98.7,412.6 L105.2,408.3 L111.7,403.9 L118.2,399.6 L122.5,395.3 L124.7,390.9 L125.8,386.6 L127.6,380.1 L129.8,372.5 L131.9,363.9 L134.1,356.3 L136.3,348.7 L137.9,343.5 L139.9,337.2 L143.6,331 L147.3,326 L151,321.1 L154.7,317.3 L158.5,314.2 L163.4,312.4 L169.6,309.3 L173.3,311.1 L178.3,314.2 L182,315.5 L185.8,314.2 L191.3,310.5 L194.4,312.4 L198.8,313.6" fill="none" stroke="#3b4dad" stroke-opacity="0.18" stroke-width="8" stroke-linejoin="round" stroke-linecap="butt"/>
<path d="M45,301.8 L48.7,303.7 L52.4,304.3 L58.6,305.2 L64.8,306.2 L68.5,308 L71,310.5 L72.9,313.6 L76,314.2 L79.7,313.6 L84,313.4 L87.1,315.5 L89.6,317.1 L93.3,317.3 L95.8,316.7 L98.3,318.6 L100.8,320.4 L104.5,321.1 L109.5,320.4 L113.2,319.8 L116.9,318.6 L120.6,316.7 L123.7,316.1 L125.6,320.4 L128.1,324.5 L131.8,325.4 L135.5,327.5 L138.6,326.3 L141.7,327 L144.8,327.3 L148.5,326.3 L152.3,325.8 L156,324.5 L159.7,325 L163.4,321.3 L167.1,323.8 L170.9,323.5 L174.6,322.5 L178.3,321.7 L182,320.4 L183.9,319.2 L187.6,320.8 L191.3,318.8 L194.4,319.8 L198.8,319.6" fill="none" stroke="#d8262c" stroke-opacity="0.18" stroke-width="6" stroke-linejoin="round" stroke-linecap="butt"/>
<path d="M44.5,434.3 L55.3,431 L66.2,427.8 L77,423.4 L85.7,421.9 L94.4,421.3" fill="none" stroke="#d8262c" stroke-opacity="0.18" stroke-width="4.4" stroke-linejoin="round" stroke-linecap="butt"/>
<path d="M94.4,421.3 L100.9,418 L107.4,416.3 L113.9,417.6 L120.4,420.2 L123.3,421.3 L126.5,418.1 L130.8,414.8 L135.2,413.7 L141.7,413.7 L148.2,413.3 L154.7,414.2 L163.4,414.8 L172,415.9 L178.5,416.3 L185,417 L189.4,416.3 L193.7,417 L199.1,417" fill="none" stroke="#d8262c" stroke-opacity="0.18" stroke-width="8.4" stroke-linejoin="round" stroke-linecap="butt"/>
<path d="M45,301.2 L52.4,302.7 L58.6,303.9 L64.8,305.5 L69.8,307.4 L72.9,307.4 L76.6,311.1 L80.9,310.5 L84,310.8 L86.5,313.6 L89.6,315.5 L93.3,317.3 L96.5,322.3 L99.6,324.8 L103.3,327 L107,327.9 L110.7,329.1 L114.4,331 L118.2,334.7 L121.9,339 L124,341.5 L125.4,350.8 L127.6,361.7 L129.8,372.5 L131.9,383.4 L135.2,394.2 L138.4,405 L141.7,411.6 L146,418.1 L150.4,421.3 L154.7,425.6 L159,428.9 L163.4,429.3 L167.7,431.5 L172,430.6 L176.4,428.9 L180.7,427.8 L185,427.2 L188.3,426.7 L191.6,428.9 L194.8,426.7 L199.1,426.3" fill="none" stroke="#3b4dad" stroke-width="1.6" stroke-linejoin="round" />
<path d="M45,301.8 L48.7,303.7 L52.4,304.3 L58.6,305.2 L64.8,306.2 L68.5,308 L71,310.5 L72.9,313.6 L76,314.2 L79.7,313.6 L84,313.4 L87.1,315.5 L89.6,317.1 L93.3,317.3 L95.8,316.7 L98.3,318.6 L100.8,320.4 L104.5,321.1 L109.5,320.4 L113.2,319.8 L116.9,318.6 L120.6,316.7 L123.7,316.1 L125.6,320.4 L128.1,324.5 L131.8,325.4 L135.5,327.5 L138.6,326.3 L141.7,327 L144.8,327.3 L148.5,326.3 L152.3,325.8 L156,324.5 L159.7,325 L163.4,321.3 L167.1,323.8 L170.9,323.5 L174.6,322.5 L178.3,321.7 L182,320.4 L183.9,319.2 L187.6,320.8 L191.3,318.8 L194.4,319.8 L198.8,319.6" fill="none" stroke="#d8262c" stroke-width="1.6" stroke-linejoin="round" />
<path d="M44.5,434.3 L55.3,431 L66.2,427.8 L77,423.4 L85.7,421.3 L92.2,418 L98.7,412.6 L105.2,408.3 L111.7,403.9 L118.2,399.6 L122.5,395.3 L124.7,390.9 L125.8,386.6 L127.6,380.1 L129.8,372.5 L131.9,363.9 L134.1,356.3 L136.3,348.7 L137.9,343.5 L139.9,337.2 L143.6,331 L147.3,326 L151,321.1 L154.7,317.3 L158.5,314.2 L163.4,312.4 L169.6,309.3 L173.3,311.1 L178.3,314.2 L182,315.5 L185.8,314.2 L191.3,310.5 L194.4,312.4 L198.8,313.6" fill="none" stroke="#3b4dad" stroke-width="1.6" stroke-linejoin="round" stroke-dasharray="7 4"/>
<path d="M44.5,434.3 L55.3,431 L66.2,427.8 L77,423.4 L85.7,421.9 L94.4,421.3 L100.9,418 L107.4,416.3 L113.9,417.6 L120.4,420.2 L123.3,421.3 L126.5,418.1 L130.8,414.8 L135.2,413.7 L141.7,413.7 L148.2,413.3 L154.7,414.2 L163.4,414.8 L172,415.9 L178.5,416.3 L185,417 L189.4,416.3 L193.7,417 L199.1,417" fill="none" stroke="#d8262c" stroke-width="1.6" stroke-linejoin="round" stroke-dasharray="7 4"/>
<line x1="69.5" y1="289.3" x2="81.7" y2="289.3" stroke="#888" stroke-width="1.6" />
<line x1="69.5" y1="299.8" x2="81.7" y2="299.8" stroke="#888" stroke-width="1.6" stroke-dasharray="5 2.2"/>
<text x="85.2" y="292.3" font-size="10.9" fill="#5a5a5a" stroke="#5a5a5a" stroke-width="0.28" text-anchor="start" font-family='"Liberation Sans", sans-serif' >Ctx 1</text>
<text x="85.2" y="302.6" font-size="10.9" fill="#5a5a5a" stroke="#5a5a5a" stroke-width="0.28" text-anchor="start" font-family='"Liberation Sans", sans-serif' >Ctx 2</text>
<line x1="131.2" y1="289.6" x2="143.8" y2="289.6" stroke="#3b4dad" stroke-width="1.6" />
<line x1="131.2" y1="299.3" x2="143.8" y2="299.3" stroke="#d8262c" stroke-width="1.6" />
<text x="145.8" y="292.6" font-size="11.1" fill="#5a5a5a" stroke="#5a5a5a" stroke-width="0.28" text-anchor="start" font-family='"Liberation Sans", sans-serif' >MB</text>
<text x="145.8" y="302.8" font-size="11.1" fill="#5a5a5a" stroke="#5a5a5a" stroke-width="0.28" text-anchor="start" font-family='"Liberation Sans", sans-serif' >MF</text>
<line x1="263.7" y1="323.4" x2="263.7" y2="438.7" stroke="#555555" stroke-width="1.1" />
<line x1="263.2" y1="438.2" x2="447" y2="438.2" stroke="#555555" stroke-width="1.1" />
<line x1="260.4" y1="327.9" x2="263.7" y2="327.9" stroke="#555555" stroke-width="1" />
<line x1="260.4" y1="343.66" x2="263.7" y2="343.66" stroke="#555555" stroke-width="1" />
<line x1="260.4" y1="359.41" x2="263.7" y2="359.41" stroke="#555555" stroke-width="1" />
<line x1="260.4" y1="375.17" x2="263.7" y2="375.17" stroke="#555555" stroke-width="1" />
<line x1="260.4" y1="390.93" x2="263.7" y2="390.93" stroke="#555555" stroke-width="1" />
<line x1="260.4" y1="406.69" x2="263.7" y2="406.69" stroke="#555555" stroke-width="1" />
<line x1="260.4" y1="422.44" x2="263.7" y2="422.44" stroke="#555555" stroke-width="1" />
<line x1="260.4" y1="438.2" x2="263.7" y2="438.2" stroke="#555555" stroke-width="1" />
<text x="259.2" y="332.1" font-size="12.2" fill="#333" stroke="#333" stroke-width="0.28" text-anchor="end" font-family='"Liberation Sans", sans-serif' >0.70</text>
<text x="259.2" y="442.4" font-size="12.2" fill="#333" stroke="#333" stroke-width="0.28" text-anchor="end" font-family='"Liberation Sans", sans-serif' >0.35</text>
<line x1="271.7" y1="438.2" x2="271.7" y2="441.7" stroke="#555555" stroke-width="1" />
<line x1="314.45" y1="438.2" x2="314.45" y2="441.7" stroke="#555555" stroke-width="1" />
<line x1="357.2" y1="438.2" x2="357.2" y2="441.7" stroke="#555555" stroke-width="1" />
<line x1="399.95" y1="438.2" x2="399.95" y2="441.7" stroke="#555555" stroke-width="1" />
<line x1="442.7" y1="438.2" x2="442.7" y2="441.7" stroke="#555555" stroke-width="1" />
<text x="271.6" y="453.7" font-size="12.2" fill="#1e1e1e" stroke="#1e1e1e" stroke-width="0.28" text-anchor="middle" font-family='"Liberation Sans", sans-serif' >-20</text>
<text x="441" y="452.6" font-size="12.2" fill="#1e1e1e" stroke="#1e1e1e" stroke-width="0.28" text-anchor="middle" font-family='"Liberation Sans", sans-serif' >20</text>
<text x="357.4" y="461" font-size="12.3" fill="#1e1e1e" stroke="#1e1e1e" stroke-width="0.28" text-anchor="middle" font-family='"Liberation Sans", sans-serif' >Trials from rule reversal</text>
<text transform="translate(231.8,380.5) rotate(-90)" font-size="12.0" fill="#333" stroke="#333" stroke-width="0.28" text-anchor="middle" font-family='"Liberation Sans", sans-serif'>Estimated value in OFC</text>
<line x1="357.2" y1="329.9" x2="357.2" y2="438.2" stroke="#8c8c8c" stroke-width="1.4" stroke-dasharray="5 3"/>
<text x="336.5" y="330.3" font-size="10.9" fill="#2a2a2a" stroke="#2a2a2a" stroke-width="0.28" text-anchor="start" font-family='"Liberation Sans", sans-serif' >SS</text>
<text x="362.8" y="330.3" font-size="10.9" fill="#2a2a2a" stroke="#2a2a2a" stroke-width="0.28" font-family='"Liberation Sans", sans-serif'>SW<tspan font-size="6.8" dy="0.6" stroke-width="0.15">MB</tspan></text>
<path d="M271.71,371.32 L281.42,365.77 L289.74,360.22 L298.06,356.06 L303.61,351.07 L311.93,347.74 L316.09,344.41 L320.25,343.58 L324.41,340.8 L328.57,342.19 L334.12,340.8 L339.67,339.42 L345.22,337.2 L350.77,334.42 L354.93,333.31 L357.15,333.31 L360.47,338.03 L364.64,343.58 L368.8,347.74 L374.34,353.84 L381.28,355.51 L389.6,358.28 L400.7,359.39 L414.57,360.22 L428.44,361.05 L438.14,361.61" fill="none" stroke="#ec6aad" stroke-opacity="0.22" stroke-width="5.2" stroke-linejoin="round" stroke-linecap="butt"/>
<path d="M271.71,391.01 L289.74,391.01 L303.61,391.01 L317.48,391.01 L331.35,389.9 L345.22,388.79 L357.15,386.02 L367.41,391.57 L378.5,397.12 L389.6,401.83 L400.7,407.38 L411.79,412.93 L422.89,417.09 L438.14,420.42" fill="none" stroke="#ec6aad" stroke-opacity="0.15" stroke-width="4" stroke-linejoin="round" stroke-linecap="butt"/>
<path d="M271.71,404.6 L281.42,407.38 L292.51,410.98 L300.83,411.54 L309.16,413.48 L317.48,414.31 L328.57,415.7 L339.67,416.53 L357.15,417.09 L367.41,416.53 L378.5,415.7 L395.15,415.15 L411.79,415.15 L428.44,415.15 L438.14,414.87" fill="none" stroke="#eea229" stroke-opacity="0.22" stroke-width="4.4" stroke-linejoin="round" stroke-linecap="butt"/>
<path d="M271.71,391.01 L289.74,391.01 L303.61,391.01 L314.7,391.01 L331.35,392.95 L345.22,394.34 L357.15,395.73 L364.64,394.9 L372.96,392.12 L381.28,388.79 L392.37,382.41 L403.47,375.48 L413.18,371.32 L420.11,368.54 L428.44,363 L438.14,358.83" fill="none" stroke="#eea229" stroke-opacity="0.15" stroke-width="6" stroke-linejoin="round" stroke-linecap="butt"/>
<path d="M271.71,371.32 L281.42,365.77 L289.74,360.22 L298.06,356.06 L303.61,351.07 L311.93,347.74 L316.09,344.41 L320.25,343.58 L324.41,340.8 L328.57,342.19 L334.12,340.8 L339.67,339.42 L345.22,337.2 L350.77,334.42 L354.93,333.31 L357.15,333.31 L360.47,338.03 L364.64,343.58 L368.8,347.74 L374.34,353.84 L381.28,355.51 L389.6,358.28 L400.7,359.39 L414.57,360.22 L428.44,361.05 L438.14,361.61" fill="none" stroke="#ec6aad" stroke-width="1.6" stroke-linejoin="round" />
<path d="M271.71,391.01 L289.74,391.01 L303.61,391.01 L317.48,391.01 L331.35,389.9 L345.22,388.79 L357.15,386.02 L367.41,391.57 L378.5,397.12 L389.6,401.83 L400.7,407.38 L411.79,412.93 L422.89,417.09 L438.14,420.42" fill="none" stroke="#ec6aad" stroke-width="1.6" stroke-linejoin="round" stroke-dasharray="7 4"/>
<path d="M271.71,404.6 L281.42,407.38 L292.51,410.98 L300.83,411.54 L309.16,413.48 L317.48,414.31 L328.57,415.7 L339.67,416.53 L357.15,417.09 L367.41,416.53 L378.5,415.7 L395.15,415.15 L411.79,415.15 L428.44,415.15 L438.14,414.87" fill="none" stroke="#eea229" stroke-width="1.6" stroke-linejoin="round" />
<path d="M271.71,391.01 L289.74,391.01 L303.61,391.01 L314.7,391.01 L331.35,392.95 L345.22,394.34 L357.15,395.73 L364.64,394.9 L372.96,392.12 L381.28,388.79 L392.37,382.41 L403.47,375.48 L413.18,371.32 L420.11,368.54 L428.44,363 L438.14,358.83" fill="none" stroke="#eea229" stroke-width="1.6" stroke-linejoin="round" stroke-dasharray="7 4"/>
<line x1="270.2" y1="307.5" x2="288.2" y2="307.5" stroke="#888" stroke-width="1.6" />
<line x1="270.6" y1="321.8" x2="288" y2="321.8" stroke="#888" stroke-width="1.6" stroke-dasharray="6.6 4.2"/>
<text x="292.3" y="311.8" font-size="10.9" fill="#444" stroke="#444" stroke-width="0.28" text-anchor="start" font-family='"Liberation Sans", sans-serif' >Ctx 1</text>
<text x="292.3" y="324.6" font-size="10.9" fill="#444" stroke="#444" stroke-width="0.28" text-anchor="start" font-family='"Liberation Sans", sans-serif' >Ctx 2</text>
<line x1="401.6" y1="309" x2="417.7" y2="309" stroke="#ec6aad" stroke-width="1.6" />
<line x1="401.6" y1="320.1" x2="417.7" y2="320.1" stroke="#eea229" stroke-width="1.6" />
<text x="422.9" y="311.2" font-size="11.3" fill="#444" stroke="#444" stroke-width="0.28" text-anchor="start" font-family='"Liberation Sans", sans-serif' >Go</text>
<text x="422.9" y="323.6" font-size="11.3" fill="#444" stroke="#444" stroke-width="0.28" text-anchor="start" font-family='"Liberation Sans", sans-serif' >NoGo</text>
<line x1="498.4" y1="322.9" x2="498.4" y2="437.3" stroke="#555555" stroke-width="1.1" />
<line x1="497.9" y1="436.8" x2="684" y2="436.8" stroke="#555555" stroke-width="1.1" />
<line x1="495.1" y1="327.4" x2="498.4" y2="327.4" stroke="#555555" stroke-width="1" />
<line x1="495.1" y1="343.03" x2="498.4" y2="343.03" stroke="#555555" stroke-width="1" />
<line x1="495.1" y1="358.66" x2="498.4" y2="358.66" stroke="#555555" stroke-width="1" />
<line x1="495.1" y1="374.29" x2="498.4" y2="374.29" stroke="#555555" stroke-width="1" />
<line x1="495.1" y1="389.91" x2="498.4" y2="389.91" stroke="#555555" stroke-width="1" />
<line x1="495.1" y1="405.54" x2="498.4" y2="405.54" stroke="#555555" stroke-width="1" />
<line x1="495.1" y1="421.17" x2="498.4" y2="421.17" stroke="#555555" stroke-width="1" />
<line x1="495.1" y1="436.8" x2="498.4" y2="436.8" stroke="#555555" stroke-width="1" />
<text x="493.9" y="331.6" font-size="12.2" fill="#333" stroke="#333" stroke-width="0.28" text-anchor="end" font-family='"Liberation Sans", sans-serif' >0.70</text>
<text x="493.9" y="441" font-size="12.2" fill="#333" stroke="#333" stroke-width="0.28" text-anchor="end" font-family='"Liberation Sans", sans-serif' >0.35</text>
<line x1="507.6" y1="436.8" x2="507.6" y2="440.3" stroke="#555555" stroke-width="1" />
<line x1="550.02" y1="436.8" x2="550.02" y2="440.3" stroke="#555555" stroke-width="1" />
<line x1="592.45" y1="436.8" x2="592.45" y2="440.3" stroke="#555555" stroke-width="1" />
<line x1="634.88" y1="436.8" x2="634.88" y2="440.3" stroke="#555555" stroke-width="1" />
<line x1="677.3" y1="436.8" x2="677.3" y2="440.3" stroke="#555555" stroke-width="1" />
<text x="508" y="453.7" font-size="12.2" fill="#1e1e1e" stroke="#1e1e1e" stroke-width="0.28" text-anchor="middle" font-family='"Liberation Sans", sans-serif' >-20</text>
<text x="679.5" y="452.6" font-size="12.2" fill="#1e1e1e" stroke="#1e1e1e" stroke-width="0.28" text-anchor="middle" font-family='"Liberation Sans", sans-serif' >20</text>
<text x="594.5" y="461" font-size="12.3" fill="#1e1e1e" stroke="#1e1e1e" stroke-width="0.28" text-anchor="middle" font-family='"Liberation Sans", sans-serif' >Trials from rule reversal</text>
<text transform="translate(469.5,380.5) rotate(-90)" font-size="12.0" fill="#333" stroke="#333" stroke-width="0.28" text-anchor="middle" font-family='"Liberation Sans", sans-serif'>Estimated value in OFC</text>
<line x1="593.6" y1="329.4" x2="593.6" y2="436.8" stroke="#8c8c8c" stroke-width="1.4" stroke-dasharray="5 3"/>
<text x="573.6" y="343.7" font-size="10.9" fill="#2a2a2a" stroke="#2a2a2a" stroke-width="0.28" text-anchor="start" font-family='"Liberation Sans", sans-serif' >SS</text>
<text x="599.8" y="343.7" font-size="10.9" fill="#2a2a2a" stroke="#2a2a2a" stroke-width="0.28" font-family='"Liberation Sans", sans-serif'>SW<tspan font-size="6.8" dy="0.6" stroke-width="0.15">MF</tspan></text>
<path d="M507.48,383.25 L514.42,381.58 L519.97,381.03 L525.51,379.08 L531.06,377.42 L536.61,378.25 L542.16,379.08 L550.48,377.7 L556.03,378.81 L561.57,377.42 L567.12,378.25 L572.67,378.81 L578.22,376.59 L583.77,377.7 L589.31,378.25 L593.47,377.42 L597.64,384.36 L601.8,389.35 L605.96,394.9 L611.5,399.06 L617.05,402.39 L622.6,407.38 L628.15,412.93 L633.7,415.7 L639.24,418.47 L644.79,420.42 L650.34,422.64 L655.89,424.02 L661.44,425.41 L666.98,426.8 L673.92,429.02" fill="none" stroke="#ec6aad" stroke-opacity="0.22" stroke-width="6.8" stroke-linejoin="round" stroke-linecap="butt"/>
<path d="M507.48,390.18 L522.74,390.18 L550.48,389.35 L578.22,387.41 L593.47,386.57 L605.96,387.13 L619.83,388.24 L633.7,388.79 L647.57,388.79 L661.44,389.07 L673.92,389.07" fill="none" stroke="#ec6aad" stroke-opacity="0.15" stroke-width="4" stroke-linejoin="round" stroke-linecap="butt"/>
<path d="M507.48,404.05 L514.42,405.44 L519.97,408.21 L525.51,410.98 L533.83,412.09 L539.38,412.37 L544.93,414.31 L550.48,415.7 L558.8,417.64 L567.12,419.31 L575.44,421.8 L583.77,423.19 L589.31,424.58 L593.47,425.96 L597.64,424.02 L605.96,421.25 L611.5,418.47 L617.05,414.31 L622.6,410.15 L628.15,407.38 L633.7,404.6 L639.24,402.39 L646.18,399.89 L653.11,397.67 L658.66,394.9 L662.82,387.96 L668.37,386.02 L673.92,384.36" fill="none" stroke="#eea229" stroke-opacity="0.22" stroke-width="6.4" stroke-linejoin="round" stroke-linecap="butt"/>
<path d="M507.48,390.18 L550.48,389.9 L578.22,389.9 L593.47,391.01 L600.41,391.29 L611.5,390.18 L625.37,389.07 L639.24,388.52 L650.34,388.24 L661.44,388.79 L673.92,389.07" fill="none" stroke="#eea229" stroke-opacity="0.15" stroke-width="5" stroke-linejoin="round" stroke-linecap="butt"/>
<path d="M507.48,383.25 L514.42,381.58 L519.97,381.03 L525.51,379.08 L531.06,377.42 L536.61,378.25 L542.16,379.08 L550.48,377.7 L556.03,378.81 L561.57,377.42 L567.12,378.25 L572.67,378.81 L578.22,376.59 L583.77,377.7 L589.31,378.25 L593.47,377.42 L597.64,384.36 L601.8,389.35 L605.96,394.9 L611.5,399.06 L617.05,402.39 L622.6,407.38 L628.15,412.93 L633.7,415.7 L639.24,418.47 L644.79,420.42 L650.34,422.64 L655.89,424.02 L661.44,425.41 L666.98,426.8 L673.92,429.02" fill="none" stroke="#ec6aad" stroke-width="1.6" stroke-linejoin="round" />
<path d="M507.48,390.18 L522.74,390.18 L550.48,389.35 L578.22,387.41 L593.47,386.57 L605.96,387.13 L619.83,388.24 L633.7,388.79 L647.57,388.79 L661.44,389.07 L673.92,389.07" fill="none" stroke="#ec6aad" stroke-width="1.6" stroke-linejoin="round" stroke-dasharray="7 4"/>
<path d="M507.48,404.05 L514.42,405.44 L519.97,408.21 L525.51,410.98 L533.83,412.09 L539.38,412.37 L544.93,414.31 L550.48,415.7 L558.8,417.64 L567.12,419.31 L575.44,421.8 L583.77,423.19 L589.31,424.58 L593.47,425.96 L597.64,424.02 L605.96,421.25 L611.5,418.47 L617.05,414.31 L622.6,410.15 L628.15,407.38 L633.7,404.6 L639.24,402.39 L646.18,399.89 L653.11,397.67 L658.66,394.9 L662.82,387.96 L668.37,386.02 L673.92,384.36" fill="none" stroke="#eea229" stroke-width="1.6" stroke-linejoin="round" />
<path d="M507.48,390.18 L550.48,389.9 L578.22,389.9 L593.47,391.01 L600.41,391.29 L611.5,390.18 L625.37,389.07 L639.24,388.52 L650.34,388.24 L661.44,388.79 L673.92,389.07" fill="none" stroke="#eea229" stroke-width="1.6" stroke-linejoin="round" stroke-dasharray="7 4"/>
</svg>
</body></html>
